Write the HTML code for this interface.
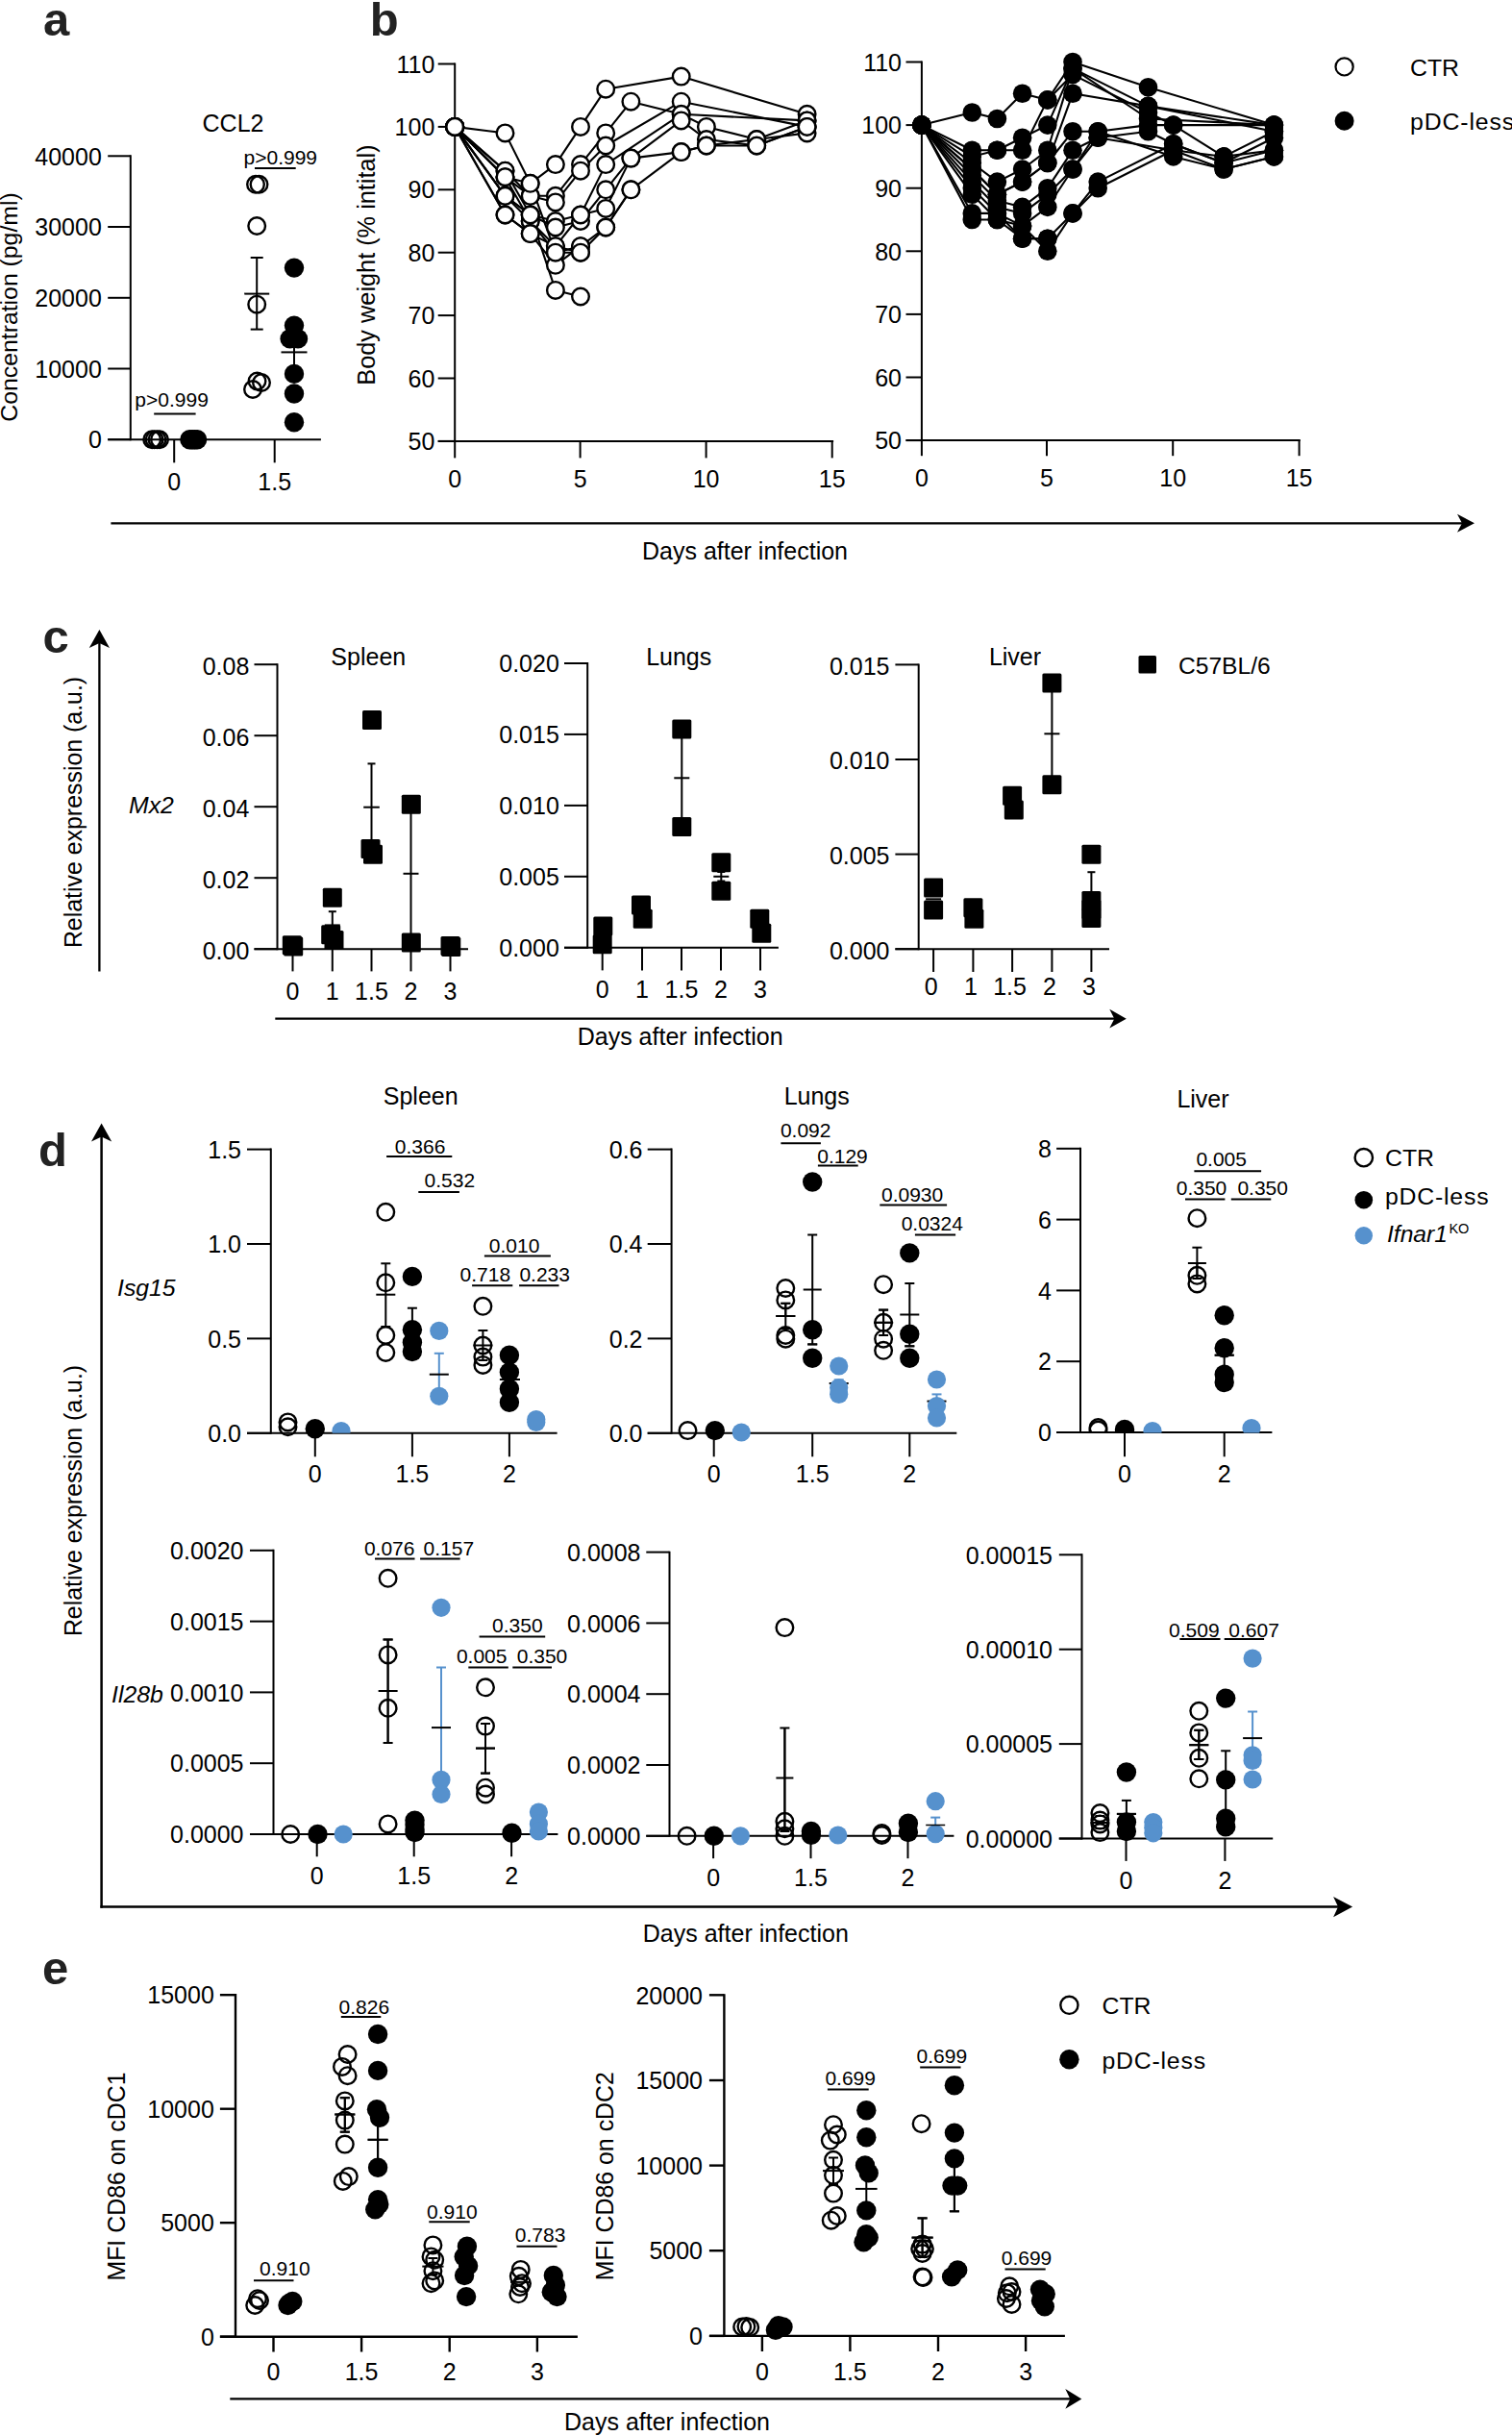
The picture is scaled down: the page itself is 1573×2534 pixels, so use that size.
<!DOCTYPE html>
<html lang="en">
<head>
<meta charset="utf-8">
<title>Figure</title>
<style>
html,body{margin:0;padding:0;background:#fff;}
body{width:1573px;height:2534px;overflow:hidden;}
svg{display:block;}
svg text{font-family:'Liberation Sans', Arial, sans-serif;}
</style>
</head>
<body>
<svg width="1573" height="2534" viewBox="0 0 1573 2534">
<rect x="0" y="0" width="1573" height="2534" fill="#fff"/>
<text transform="translate(45.0 36.6) scale(1.0 1)" x="0" y="0" style="font-size:49px;font-weight:bold" fill="#222">a</text>
<text transform="translate(384.7 36.6) scale(1.0 1)" x="0" y="0" style="font-size:49px;font-weight:bold" fill="#222">b</text>
<text transform="translate(44.5 678.5) scale(1.0 1)" x="0" y="0" style="font-size:49px;font-weight:bold" fill="#222">c</text>
<text transform="translate(40.0 1213.0) scale(1.0 1)" x="0" y="0" style="font-size:49px;font-weight:bold" fill="#222">d</text>
<text transform="translate(44.0 2064.0) scale(1.0 1)" x="0" y="0" style="font-size:49px;font-weight:bold" fill="#222">e</text>
<line x1="135.8" y1="161.3" x2="135.8" y2="458.2" stroke="#000" stroke-width="2" stroke-linecap="butt"/>
<line x1="112.2" y1="457.2" x2="333.9" y2="457.2" stroke="#000" stroke-width="2" stroke-linecap="butt"/>
<line x1="112.2" y1="457.2" x2="135.8" y2="457.2" stroke="#000" stroke-width="2" stroke-linecap="butt"/>
<text x="105.8" y="466.3" text-anchor="end" style="font-size:25px" fill="#000">0</text>
<line x1="112.2" y1="383.5" x2="135.8" y2="383.5" stroke="#000" stroke-width="2" stroke-linecap="butt"/>
<text x="105.8" y="392.6" text-anchor="end" style="font-size:25px" fill="#000">10000</text>
<line x1="112.2" y1="309.8" x2="135.8" y2="309.8" stroke="#000" stroke-width="2" stroke-linecap="butt"/>
<text x="105.8" y="318.9" text-anchor="end" style="font-size:25px" fill="#000">20000</text>
<line x1="112.2" y1="236.0" x2="135.8" y2="236.0" stroke="#000" stroke-width="2" stroke-linecap="butt"/>
<text x="105.8" y="245.2" text-anchor="end" style="font-size:25px" fill="#000">30000</text>
<line x1="112.2" y1="162.3" x2="135.8" y2="162.3" stroke="#000" stroke-width="2" stroke-linecap="butt"/>
<text x="105.8" y="171.5" text-anchor="end" style="font-size:25px" fill="#000">40000</text>
<line x1="181.2" y1="457.2" x2="181.2" y2="481.3" stroke="#000" stroke-width="2" stroke-linecap="butt"/>
<text x="181.2" y="510.3" text-anchor="middle" style="font-size:25px" fill="#000">0</text>
<line x1="285.7" y1="457.2" x2="285.7" y2="481.3" stroke="#000" stroke-width="2" stroke-linecap="butt"/>
<text x="285.7" y="510.3" text-anchor="middle" style="font-size:25px" fill="#000">1.5</text>
<text x="242.5" y="136.8" text-anchor="middle" style="font-size:25px" fill="#000">CCL2</text>
<text x="18.3" y="319.5" text-anchor="middle" style="font-size:24.8px" fill="#000" transform="rotate(-90 18.3 319.5)">Concentration (pg/ml)</text>
<circle cx="158.2" cy="457.2" r="8.8" fill="none" stroke="#000" stroke-width="2.4"/>
<circle cx="160.6" cy="457.2" r="8.8" fill="none" stroke="#000" stroke-width="2.4"/>
<circle cx="163.5" cy="457.2" r="8.8" fill="none" stroke="#000" stroke-width="2.4"/>
<circle cx="166.0" cy="457.2" r="8.8" fill="none" stroke="#000" stroke-width="2.4"/>
<circle cx="197.4" cy="457.2" r="10.2" fill="#000"/>
<circle cx="200.0" cy="457.2" r="10.2" fill="#000"/>
<circle cx="202.5" cy="457.2" r="10.2" fill="#000"/>
<circle cx="205.1" cy="457.2" r="10.2" fill="#000"/>
<line x1="267.2" y1="268.0" x2="267.2" y2="342.6" stroke="#000" stroke-width="2" stroke-linecap="butt"/>
<line x1="260.7" y1="268.0" x2="273.7" y2="268.0" stroke="#000" stroke-width="2" stroke-linecap="butt"/>
<line x1="260.7" y1="342.6" x2="273.7" y2="342.6" stroke="#000" stroke-width="2" stroke-linecap="butt"/>
<line x1="254.2" y1="305.6" x2="280.2" y2="305.6" stroke="#000" stroke-width="2" stroke-linecap="butt"/>
<circle cx="266.0" cy="191.8" r="8.8" fill="none" stroke="#000" stroke-width="2.4"/>
<circle cx="269.5" cy="191.8" r="8.8" fill="none" stroke="#000" stroke-width="2.4"/>
<circle cx="267.2" cy="235.0" r="8.8" fill="none" stroke="#000" stroke-width="2.4"/>
<circle cx="267.2" cy="316.7" r="8.8" fill="none" stroke="#000" stroke-width="2.4"/>
<circle cx="267.5" cy="396.5" r="8.8" fill="none" stroke="#000" stroke-width="2.4"/>
<circle cx="272.0" cy="398.0" r="8.8" fill="none" stroke="#000" stroke-width="2.4"/>
<circle cx="263.0" cy="405.0" r="8.8" fill="none" stroke="#000" stroke-width="2.4"/>
<line x1="306.0" y1="340.0" x2="306.0" y2="392.0" stroke="#000" stroke-width="2" stroke-linecap="butt"/>
<line x1="299.5" y1="340.0" x2="312.5" y2="340.0" stroke="#000" stroke-width="2" stroke-linecap="butt"/>
<line x1="299.5" y1="392.0" x2="312.5" y2="392.0" stroke="#000" stroke-width="2" stroke-linecap="butt"/>
<line x1="292.5" y1="366.4" x2="319.5" y2="366.4" stroke="#000" stroke-width="2" stroke-linecap="butt"/>
<circle cx="306.0" cy="278.6" r="10.2" fill="#000"/>
<circle cx="306.0" cy="338.6" r="10.2" fill="#000"/>
<circle cx="301.6" cy="352.4" r="10.2" fill="#000"/>
<circle cx="310.0" cy="352.4" r="10.2" fill="#000"/>
<circle cx="306.0" cy="388.9" r="10.2" fill="#000"/>
<circle cx="306.0" cy="409.5" r="10.2" fill="#000"/>
<circle cx="306.0" cy="439.2" r="10.2" fill="#000"/>
<text x="178.6" y="422.7" text-anchor="middle" style="font-size:21px" fill="#000">p&gt;0.999</text>
<line x1="160.2" y1="430.5" x2="203.6" y2="430.5" stroke="#000" stroke-width="2" stroke-linecap="butt"/>
<text x="291.8" y="170.6" text-anchor="middle" style="font-size:21px" fill="#000">p&gt;0.999</text>
<line x1="265.0" y1="174.9" x2="307.7" y2="174.9" stroke="#000" stroke-width="2" stroke-linecap="butt"/>
<line x1="473.2" y1="65.5" x2="473.2" y2="459.9" stroke="#000" stroke-width="2" stroke-linecap="butt"/>
<line x1="455.7" y1="458.9" x2="867.1" y2="458.9" stroke="#000" stroke-width="2" stroke-linecap="butt"/>
<line x1="455.7" y1="458.9" x2="473.2" y2="458.9" stroke="#000" stroke-width="2" stroke-linecap="butt"/>
<text x="452.3" y="468.0" text-anchor="end" style="font-size:25px" fill="#000">50</text>
<line x1="455.7" y1="393.5" x2="473.2" y2="393.5" stroke="#000" stroke-width="2" stroke-linecap="butt"/>
<text x="452.3" y="402.6" text-anchor="end" style="font-size:25px" fill="#000">60</text>
<line x1="455.7" y1="328.1" x2="473.2" y2="328.1" stroke="#000" stroke-width="2" stroke-linecap="butt"/>
<text x="452.3" y="337.2" text-anchor="end" style="font-size:25px" fill="#000">70</text>
<line x1="455.7" y1="262.7" x2="473.2" y2="262.7" stroke="#000" stroke-width="2" stroke-linecap="butt"/>
<text x="452.3" y="271.8" text-anchor="end" style="font-size:25px" fill="#000">80</text>
<line x1="455.7" y1="197.3" x2="473.2" y2="197.3" stroke="#000" stroke-width="2" stroke-linecap="butt"/>
<text x="452.3" y="206.4" text-anchor="end" style="font-size:25px" fill="#000">90</text>
<line x1="455.7" y1="131.9" x2="473.2" y2="131.9" stroke="#000" stroke-width="2" stroke-linecap="butt"/>
<text x="452.3" y="141.0" text-anchor="end" style="font-size:25px" fill="#000">100</text>
<line x1="455.7" y1="66.5" x2="473.2" y2="66.5" stroke="#000" stroke-width="2" stroke-linecap="butt"/>
<text x="452.3" y="75.7" text-anchor="end" style="font-size:25px" fill="#000">110</text>
<line x1="473.2" y1="458.9" x2="473.2" y2="476.4" stroke="#000" stroke-width="2" stroke-linecap="butt"/>
<text x="473.2" y="507.2" text-anchor="middle" style="font-size:25px" fill="#000">0</text>
<line x1="603.6" y1="458.9" x2="603.6" y2="476.4" stroke="#000" stroke-width="2" stroke-linecap="butt"/>
<text x="603.6" y="507.2" text-anchor="middle" style="font-size:25px" fill="#000">5</text>
<line x1="734.6" y1="458.9" x2="734.6" y2="476.4" stroke="#000" stroke-width="2" stroke-linecap="butt"/>
<text x="734.6" y="507.2" text-anchor="middle" style="font-size:25px" fill="#000">10</text>
<line x1="865.7" y1="458.9" x2="865.7" y2="476.4" stroke="#000" stroke-width="2" stroke-linecap="butt"/>
<text x="865.7" y="507.2" text-anchor="middle" style="font-size:25px" fill="#000">15</text>
<text x="390.3" y="275.5" text-anchor="middle" style="font-size:25.3px" fill="#000" transform="rotate(-90 390.3 275.5)">Body weight (% intital)</text>
<polyline points="473.2,131.9 525.5,138.4 551.7,190.8 577.9,171.1 604.0,131.9 630.2,92.7 708.7,79.6 839.6,118.8" fill="none" stroke="#000" stroke-width="2.1" stroke-linejoin="round"/>
<polyline points="473.2,131.9 525.5,177.7 551.7,203.8 577.9,203.8 604.0,171.1 630.2,138.4 656.4,105.7 708.7,118.8 734.9,131.9 787.2,145.0 839.6,125.4" fill="none" stroke="#000" stroke-width="2.1" stroke-linejoin="round"/>
<polyline points="473.2,131.9 525.5,184.2 551.7,203.8 577.9,210.4 604.0,177.7 630.2,151.5 708.7,105.7 839.6,131.9" fill="none" stroke="#000" stroke-width="2.1" stroke-linejoin="round"/>
<polyline points="473.2,131.9 525.5,177.7 551.7,223.5 577.9,230.0 604.0,223.5 630.2,171.1 708.7,118.8 839.6,125.4" fill="none" stroke="#000" stroke-width="2.1" stroke-linejoin="round"/>
<polyline points="473.2,131.9 525.5,203.8 551.7,223.5 577.9,236.5 604.0,230.0 630.2,197.3 656.4,164.6 708.7,125.4 734.9,145.0 787.2,151.5 839.6,131.9" fill="none" stroke="#000" stroke-width="2.1" stroke-linejoin="round"/>
<polyline points="473.2,131.9 525.5,184.2 551.7,230.0 577.9,256.2 604.0,223.5 630.2,216.9 656.4,164.6 708.7,158.1 734.9,151.5 787.2,145.0 839.6,138.4" fill="none" stroke="#000" stroke-width="2.1" stroke-linejoin="round"/>
<polyline points="473.2,131.9 525.5,203.8 551.7,230.0 577.9,262.7 604.0,256.2 630.2,236.5 656.4,197.3 708.7,158.1 734.9,151.5 787.2,151.5 839.6,131.9" fill="none" stroke="#000" stroke-width="2.1" stroke-linejoin="round"/>
<polyline points="473.2,131.9 525.5,223.5 551.7,243.1 577.9,256.2 604.0,262.7 630.2,236.5 656.4,197.3" fill="none" stroke="#000" stroke-width="2.1" stroke-linejoin="round"/>
<polyline points="473.2,131.9 525.5,223.5 551.7,243.1 577.9,275.8 604.0,256.2" fill="none" stroke="#000" stroke-width="2.1" stroke-linejoin="round"/>
<polyline points="473.2,131.9 525.5,203.8 551.7,223.5 577.9,301.9 604.0,308.5" fill="none" stroke="#000" stroke-width="2.1" stroke-linejoin="round"/>
<polyline points="473.2,131.9 525.5,184.2 551.7,190.8 577.9,262.7 604.0,262.7" fill="none" stroke="#000" stroke-width="2.1" stroke-linejoin="round"/>
<circle cx="473.2" cy="131.9" r="8.8" fill="#fff" stroke="#000" stroke-width="2.4"/>
<circle cx="525.5" cy="138.4" r="8.8" fill="#fff" stroke="#000" stroke-width="2.4"/>
<circle cx="551.7" cy="190.8" r="8.8" fill="#fff" stroke="#000" stroke-width="2.4"/>
<circle cx="577.9" cy="171.1" r="8.8" fill="#fff" stroke="#000" stroke-width="2.4"/>
<circle cx="604.0" cy="131.9" r="8.8" fill="#fff" stroke="#000" stroke-width="2.4"/>
<circle cx="630.2" cy="92.7" r="8.8" fill="#fff" stroke="#000" stroke-width="2.4"/>
<circle cx="708.7" cy="79.6" r="8.8" fill="#fff" stroke="#000" stroke-width="2.4"/>
<circle cx="839.6" cy="118.8" r="8.8" fill="#fff" stroke="#000" stroke-width="2.4"/>
<circle cx="473.2" cy="131.9" r="8.8" fill="#fff" stroke="#000" stroke-width="2.4"/>
<circle cx="525.5" cy="177.7" r="8.8" fill="#fff" stroke="#000" stroke-width="2.4"/>
<circle cx="551.7" cy="203.8" r="8.8" fill="#fff" stroke="#000" stroke-width="2.4"/>
<circle cx="577.9" cy="203.8" r="8.8" fill="#fff" stroke="#000" stroke-width="2.4"/>
<circle cx="604.0" cy="171.1" r="8.8" fill="#fff" stroke="#000" stroke-width="2.4"/>
<circle cx="630.2" cy="138.4" r="8.8" fill="#fff" stroke="#000" stroke-width="2.4"/>
<circle cx="656.4" cy="105.7" r="8.8" fill="#fff" stroke="#000" stroke-width="2.4"/>
<circle cx="708.7" cy="118.8" r="8.8" fill="#fff" stroke="#000" stroke-width="2.4"/>
<circle cx="734.9" cy="131.9" r="8.8" fill="#fff" stroke="#000" stroke-width="2.4"/>
<circle cx="787.2" cy="145.0" r="8.8" fill="#fff" stroke="#000" stroke-width="2.4"/>
<circle cx="839.6" cy="125.4" r="8.8" fill="#fff" stroke="#000" stroke-width="2.4"/>
<circle cx="473.2" cy="131.9" r="8.8" fill="#fff" stroke="#000" stroke-width="2.4"/>
<circle cx="525.5" cy="184.2" r="8.8" fill="#fff" stroke="#000" stroke-width="2.4"/>
<circle cx="551.7" cy="203.8" r="8.8" fill="#fff" stroke="#000" stroke-width="2.4"/>
<circle cx="577.9" cy="210.4" r="8.8" fill="#fff" stroke="#000" stroke-width="2.4"/>
<circle cx="604.0" cy="177.7" r="8.8" fill="#fff" stroke="#000" stroke-width="2.4"/>
<circle cx="630.2" cy="151.5" r="8.8" fill="#fff" stroke="#000" stroke-width="2.4"/>
<circle cx="708.7" cy="105.7" r="8.8" fill="#fff" stroke="#000" stroke-width="2.4"/>
<circle cx="839.6" cy="131.9" r="8.8" fill="#fff" stroke="#000" stroke-width="2.4"/>
<circle cx="473.2" cy="131.9" r="8.8" fill="#fff" stroke="#000" stroke-width="2.4"/>
<circle cx="525.5" cy="177.7" r="8.8" fill="#fff" stroke="#000" stroke-width="2.4"/>
<circle cx="551.7" cy="223.5" r="8.8" fill="#fff" stroke="#000" stroke-width="2.4"/>
<circle cx="577.9" cy="230.0" r="8.8" fill="#fff" stroke="#000" stroke-width="2.4"/>
<circle cx="604.0" cy="223.5" r="8.8" fill="#fff" stroke="#000" stroke-width="2.4"/>
<circle cx="630.2" cy="171.1" r="8.8" fill="#fff" stroke="#000" stroke-width="2.4"/>
<circle cx="708.7" cy="118.8" r="8.8" fill="#fff" stroke="#000" stroke-width="2.4"/>
<circle cx="839.6" cy="125.4" r="8.8" fill="#fff" stroke="#000" stroke-width="2.4"/>
<circle cx="473.2" cy="131.9" r="8.8" fill="#fff" stroke="#000" stroke-width="2.4"/>
<circle cx="525.5" cy="203.8" r="8.8" fill="#fff" stroke="#000" stroke-width="2.4"/>
<circle cx="551.7" cy="223.5" r="8.8" fill="#fff" stroke="#000" stroke-width="2.4"/>
<circle cx="577.9" cy="236.5" r="8.8" fill="#fff" stroke="#000" stroke-width="2.4"/>
<circle cx="604.0" cy="230.0" r="8.8" fill="#fff" stroke="#000" stroke-width="2.4"/>
<circle cx="630.2" cy="197.3" r="8.8" fill="#fff" stroke="#000" stroke-width="2.4"/>
<circle cx="656.4" cy="164.6" r="8.8" fill="#fff" stroke="#000" stroke-width="2.4"/>
<circle cx="708.7" cy="125.4" r="8.8" fill="#fff" stroke="#000" stroke-width="2.4"/>
<circle cx="734.9" cy="145.0" r="8.8" fill="#fff" stroke="#000" stroke-width="2.4"/>
<circle cx="787.2" cy="151.5" r="8.8" fill="#fff" stroke="#000" stroke-width="2.4"/>
<circle cx="839.6" cy="131.9" r="8.8" fill="#fff" stroke="#000" stroke-width="2.4"/>
<circle cx="473.2" cy="131.9" r="8.8" fill="#fff" stroke="#000" stroke-width="2.4"/>
<circle cx="525.5" cy="184.2" r="8.8" fill="#fff" stroke="#000" stroke-width="2.4"/>
<circle cx="551.7" cy="230.0" r="8.8" fill="#fff" stroke="#000" stroke-width="2.4"/>
<circle cx="577.9" cy="256.2" r="8.8" fill="#fff" stroke="#000" stroke-width="2.4"/>
<circle cx="604.0" cy="223.5" r="8.8" fill="#fff" stroke="#000" stroke-width="2.4"/>
<circle cx="630.2" cy="216.9" r="8.8" fill="#fff" stroke="#000" stroke-width="2.4"/>
<circle cx="656.4" cy="164.6" r="8.8" fill="#fff" stroke="#000" stroke-width="2.4"/>
<circle cx="708.7" cy="158.1" r="8.8" fill="#fff" stroke="#000" stroke-width="2.4"/>
<circle cx="734.9" cy="151.5" r="8.8" fill="#fff" stroke="#000" stroke-width="2.4"/>
<circle cx="787.2" cy="145.0" r="8.8" fill="#fff" stroke="#000" stroke-width="2.4"/>
<circle cx="839.6" cy="138.4" r="8.8" fill="#fff" stroke="#000" stroke-width="2.4"/>
<circle cx="473.2" cy="131.9" r="8.8" fill="#fff" stroke="#000" stroke-width="2.4"/>
<circle cx="525.5" cy="203.8" r="8.8" fill="#fff" stroke="#000" stroke-width="2.4"/>
<circle cx="551.7" cy="230.0" r="8.8" fill="#fff" stroke="#000" stroke-width="2.4"/>
<circle cx="577.9" cy="262.7" r="8.8" fill="#fff" stroke="#000" stroke-width="2.4"/>
<circle cx="604.0" cy="256.2" r="8.8" fill="#fff" stroke="#000" stroke-width="2.4"/>
<circle cx="630.2" cy="236.5" r="8.8" fill="#fff" stroke="#000" stroke-width="2.4"/>
<circle cx="656.4" cy="197.3" r="8.8" fill="#fff" stroke="#000" stroke-width="2.4"/>
<circle cx="708.7" cy="158.1" r="8.8" fill="#fff" stroke="#000" stroke-width="2.4"/>
<circle cx="734.9" cy="151.5" r="8.8" fill="#fff" stroke="#000" stroke-width="2.4"/>
<circle cx="787.2" cy="151.5" r="8.8" fill="#fff" stroke="#000" stroke-width="2.4"/>
<circle cx="839.6" cy="131.9" r="8.8" fill="#fff" stroke="#000" stroke-width="2.4"/>
<circle cx="473.2" cy="131.9" r="8.8" fill="#fff" stroke="#000" stroke-width="2.4"/>
<circle cx="525.5" cy="223.5" r="8.8" fill="#fff" stroke="#000" stroke-width="2.4"/>
<circle cx="551.7" cy="243.1" r="8.8" fill="#fff" stroke="#000" stroke-width="2.4"/>
<circle cx="577.9" cy="256.2" r="8.8" fill="#fff" stroke="#000" stroke-width="2.4"/>
<circle cx="604.0" cy="262.7" r="8.8" fill="#fff" stroke="#000" stroke-width="2.4"/>
<circle cx="630.2" cy="236.5" r="8.8" fill="#fff" stroke="#000" stroke-width="2.4"/>
<circle cx="656.4" cy="197.3" r="8.8" fill="#fff" stroke="#000" stroke-width="2.4"/>
<circle cx="473.2" cy="131.9" r="8.8" fill="#fff" stroke="#000" stroke-width="2.4"/>
<circle cx="525.5" cy="223.5" r="8.8" fill="#fff" stroke="#000" stroke-width="2.4"/>
<circle cx="551.7" cy="243.1" r="8.8" fill="#fff" stroke="#000" stroke-width="2.4"/>
<circle cx="577.9" cy="275.8" r="8.8" fill="#fff" stroke="#000" stroke-width="2.4"/>
<circle cx="604.0" cy="256.2" r="8.8" fill="#fff" stroke="#000" stroke-width="2.4"/>
<circle cx="473.2" cy="131.9" r="8.8" fill="#fff" stroke="#000" stroke-width="2.4"/>
<circle cx="525.5" cy="203.8" r="8.8" fill="#fff" stroke="#000" stroke-width="2.4"/>
<circle cx="551.7" cy="223.5" r="8.8" fill="#fff" stroke="#000" stroke-width="2.4"/>
<circle cx="577.9" cy="301.9" r="8.8" fill="#fff" stroke="#000" stroke-width="2.4"/>
<circle cx="604.0" cy="308.5" r="8.8" fill="#fff" stroke="#000" stroke-width="2.4"/>
<circle cx="473.2" cy="131.9" r="8.8" fill="#fff" stroke="#000" stroke-width="2.4"/>
<circle cx="525.5" cy="184.2" r="8.8" fill="#fff" stroke="#000" stroke-width="2.4"/>
<circle cx="551.7" cy="190.8" r="8.8" fill="#fff" stroke="#000" stroke-width="2.4"/>
<circle cx="577.9" cy="262.7" r="8.8" fill="#fff" stroke="#000" stroke-width="2.4"/>
<circle cx="604.0" cy="262.7" r="8.8" fill="#fff" stroke="#000" stroke-width="2.4"/>
<line x1="958.9" y1="63.4" x2="958.9" y2="459.1" stroke="#000" stroke-width="2" stroke-linecap="butt"/>
<line x1="942.5" y1="458.1" x2="1352.8" y2="458.1" stroke="#000" stroke-width="2" stroke-linecap="butt"/>
<line x1="942.5" y1="458.1" x2="958.9" y2="458.1" stroke="#000" stroke-width="2" stroke-linecap="butt"/>
<text x="938.0" y="467.2" text-anchor="end" style="font-size:25px" fill="#000">50</text>
<line x1="942.5" y1="392.5" x2="958.9" y2="392.5" stroke="#000" stroke-width="2" stroke-linecap="butt"/>
<text x="938.0" y="401.6" text-anchor="end" style="font-size:25px" fill="#000">60</text>
<line x1="942.5" y1="326.9" x2="958.9" y2="326.9" stroke="#000" stroke-width="2" stroke-linecap="butt"/>
<text x="938.0" y="336.1" text-anchor="end" style="font-size:25px" fill="#000">70</text>
<line x1="942.5" y1="261.3" x2="958.9" y2="261.3" stroke="#000" stroke-width="2" stroke-linecap="butt"/>
<text x="938.0" y="270.5" text-anchor="end" style="font-size:25px" fill="#000">80</text>
<line x1="942.5" y1="195.7" x2="958.9" y2="195.7" stroke="#000" stroke-width="2" stroke-linecap="butt"/>
<text x="938.0" y="204.9" text-anchor="end" style="font-size:25px" fill="#000">90</text>
<line x1="942.5" y1="130.1" x2="958.9" y2="130.1" stroke="#000" stroke-width="2" stroke-linecap="butt"/>
<text x="938.0" y="139.3" text-anchor="end" style="font-size:25px" fill="#000">100</text>
<line x1="942.5" y1="64.5" x2="958.9" y2="64.5" stroke="#000" stroke-width="2" stroke-linecap="butt"/>
<text x="938.0" y="73.7" text-anchor="end" style="font-size:25px" fill="#000">110</text>
<line x1="958.9" y1="458.1" x2="958.9" y2="474.2" stroke="#000" stroke-width="2" stroke-linecap="butt"/>
<text x="958.9" y="506.0" text-anchor="middle" style="font-size:25px" fill="#000">0</text>
<line x1="1089.0" y1="458.1" x2="1089.0" y2="474.2" stroke="#000" stroke-width="2" stroke-linecap="butt"/>
<text x="1089.0" y="506.0" text-anchor="middle" style="font-size:25px" fill="#000">5</text>
<line x1="1220.2" y1="458.1" x2="1220.2" y2="474.2" stroke="#000" stroke-width="2" stroke-linecap="butt"/>
<text x="1220.2" y="506.0" text-anchor="middle" style="font-size:25px" fill="#000">10</text>
<line x1="1351.6" y1="458.1" x2="1351.6" y2="474.2" stroke="#000" stroke-width="2" stroke-linecap="butt"/>
<text x="1351.6" y="506.0" text-anchor="middle" style="font-size:25px" fill="#000">15</text>
<polyline points="958.9,130.1 1011.3,117.0 1037.4,123.5 1063.6,97.3 1089.8,103.9 1116.0,64.5 1194.5,90.7 1325.4,130.1" fill="none" stroke="#000" stroke-width="2.1" stroke-linejoin="round"/>
<polyline points="958.9,130.1 1011.3,156.3 1037.4,156.3 1063.6,143.2 1089.8,130.1 1116.0,71.1 1194.5,110.4 1325.4,130.1" fill="none" stroke="#000" stroke-width="2.1" stroke-linejoin="round"/>
<polyline points="958.9,130.1 1011.3,162.9 1037.4,156.3 1063.6,156.3 1089.8,103.9 1116.0,77.6 1194.5,117.0 1220.7,130.1 1273.1,162.9 1325.4,136.7" fill="none" stroke="#000" stroke-width="2.1" stroke-linejoin="round"/>
<polyline points="958.9,130.1 1011.3,169.5 1037.4,189.1 1063.6,176.0 1089.8,156.3 1116.0,71.1 1194.5,123.5 1325.4,130.1" fill="none" stroke="#000" stroke-width="2.1" stroke-linejoin="round"/>
<polyline points="958.9,130.1 1011.3,176.0 1037.4,202.3 1063.6,189.1 1089.8,169.5 1116.0,97.3 1194.5,110.4 1325.4,136.7" fill="none" stroke="#000" stroke-width="2.1" stroke-linejoin="round"/>
<polyline points="958.9,130.1 1011.3,176.0 1037.4,202.3 1063.6,189.1 1089.8,169.5 1116.0,136.7 1142.2,136.7 1194.5,130.1 1220.7,130.1 1325.4,130.1" fill="none" stroke="#000" stroke-width="2.1" stroke-linejoin="round"/>
<polyline points="958.9,130.1 1011.3,182.6 1037.4,208.8 1063.6,215.4 1089.8,195.7 1116.0,156.3 1142.2,143.2 1194.5,136.7 1220.7,149.8 1273.1,169.5 1325.4,143.2" fill="none" stroke="#000" stroke-width="2.1" stroke-linejoin="round"/>
<polyline points="958.9,130.1 1011.3,189.1 1037.4,215.4 1063.6,221.9 1089.8,202.3 1116.0,176.0 1142.2,143.2 1220.7,156.3 1273.1,162.9 1325.4,156.3" fill="none" stroke="#000" stroke-width="2.1" stroke-linejoin="round"/>
<polyline points="958.9,130.1 1011.3,195.7 1037.4,221.9 1063.6,235.1 1089.8,215.4 1116.0,176.0 1142.2,136.7 1220.7,162.9 1273.1,176.0 1325.4,162.9" fill="none" stroke="#000" stroke-width="2.1" stroke-linejoin="round"/>
<polyline points="958.9,130.1 1011.3,221.9 1037.4,221.9 1063.6,248.2 1089.8,248.2 1116.0,221.9 1142.2,189.1 1220.7,149.8 1273.1,169.5 1325.4,156.3" fill="none" stroke="#000" stroke-width="2.1" stroke-linejoin="round"/>
<polyline points="958.9,130.1 1011.3,228.5 1037.4,228.5 1063.6,235.1 1089.8,261.3 1116.0,221.9 1142.2,195.7 1220.7,156.3 1273.1,176.0 1325.4,162.9" fill="none" stroke="#000" stroke-width="2.1" stroke-linejoin="round"/>
<polyline points="958.9,130.1 1011.3,202.3 1037.4,228.5 1063.6,248.2 1089.8,248.2" fill="none" stroke="#000" stroke-width="2.1" stroke-linejoin="round"/>
<circle cx="958.9" cy="130.1" r="9.8" fill="#000"/>
<circle cx="1011.3" cy="117.0" r="9.8" fill="#000"/>
<circle cx="1037.4" cy="123.5" r="9.8" fill="#000"/>
<circle cx="1063.6" cy="97.3" r="9.8" fill="#000"/>
<circle cx="1089.8" cy="103.9" r="9.8" fill="#000"/>
<circle cx="1116.0" cy="64.5" r="9.8" fill="#000"/>
<circle cx="1194.5" cy="90.7" r="9.8" fill="#000"/>
<circle cx="1325.4" cy="130.1" r="9.8" fill="#000"/>
<circle cx="958.9" cy="130.1" r="9.8" fill="#000"/>
<circle cx="1011.3" cy="156.3" r="9.8" fill="#000"/>
<circle cx="1037.4" cy="156.3" r="9.8" fill="#000"/>
<circle cx="1063.6" cy="143.2" r="9.8" fill="#000"/>
<circle cx="1089.8" cy="130.1" r="9.8" fill="#000"/>
<circle cx="1116.0" cy="71.1" r="9.8" fill="#000"/>
<circle cx="1194.5" cy="110.4" r="9.8" fill="#000"/>
<circle cx="1325.4" cy="130.1" r="9.8" fill="#000"/>
<circle cx="958.9" cy="130.1" r="9.8" fill="#000"/>
<circle cx="1011.3" cy="162.9" r="9.8" fill="#000"/>
<circle cx="1037.4" cy="156.3" r="9.8" fill="#000"/>
<circle cx="1063.6" cy="156.3" r="9.8" fill="#000"/>
<circle cx="1089.8" cy="103.9" r="9.8" fill="#000"/>
<circle cx="1116.0" cy="77.6" r="9.8" fill="#000"/>
<circle cx="1194.5" cy="117.0" r="9.8" fill="#000"/>
<circle cx="1220.7" cy="130.1" r="9.8" fill="#000"/>
<circle cx="1273.1" cy="162.9" r="9.8" fill="#000"/>
<circle cx="1325.4" cy="136.7" r="9.8" fill="#000"/>
<circle cx="958.9" cy="130.1" r="9.8" fill="#000"/>
<circle cx="1011.3" cy="169.5" r="9.8" fill="#000"/>
<circle cx="1037.4" cy="189.1" r="9.8" fill="#000"/>
<circle cx="1063.6" cy="176.0" r="9.8" fill="#000"/>
<circle cx="1089.8" cy="156.3" r="9.8" fill="#000"/>
<circle cx="1116.0" cy="71.1" r="9.8" fill="#000"/>
<circle cx="1194.5" cy="123.5" r="9.8" fill="#000"/>
<circle cx="1325.4" cy="130.1" r="9.8" fill="#000"/>
<circle cx="958.9" cy="130.1" r="9.8" fill="#000"/>
<circle cx="1011.3" cy="176.0" r="9.8" fill="#000"/>
<circle cx="1037.4" cy="202.3" r="9.8" fill="#000"/>
<circle cx="1063.6" cy="189.1" r="9.8" fill="#000"/>
<circle cx="1089.8" cy="169.5" r="9.8" fill="#000"/>
<circle cx="1116.0" cy="97.3" r="9.8" fill="#000"/>
<circle cx="1194.5" cy="110.4" r="9.8" fill="#000"/>
<circle cx="1325.4" cy="136.7" r="9.8" fill="#000"/>
<circle cx="958.9" cy="130.1" r="9.8" fill="#000"/>
<circle cx="1011.3" cy="176.0" r="9.8" fill="#000"/>
<circle cx="1037.4" cy="202.3" r="9.8" fill="#000"/>
<circle cx="1063.6" cy="189.1" r="9.8" fill="#000"/>
<circle cx="1089.8" cy="169.5" r="9.8" fill="#000"/>
<circle cx="1116.0" cy="136.7" r="9.8" fill="#000"/>
<circle cx="1142.2" cy="136.7" r="9.8" fill="#000"/>
<circle cx="1194.5" cy="130.1" r="9.8" fill="#000"/>
<circle cx="1220.7" cy="130.1" r="9.8" fill="#000"/>
<circle cx="1325.4" cy="130.1" r="9.8" fill="#000"/>
<circle cx="958.9" cy="130.1" r="9.8" fill="#000"/>
<circle cx="1011.3" cy="182.6" r="9.8" fill="#000"/>
<circle cx="1037.4" cy="208.8" r="9.8" fill="#000"/>
<circle cx="1063.6" cy="215.4" r="9.8" fill="#000"/>
<circle cx="1089.8" cy="195.7" r="9.8" fill="#000"/>
<circle cx="1116.0" cy="156.3" r="9.8" fill="#000"/>
<circle cx="1142.2" cy="143.2" r="9.8" fill="#000"/>
<circle cx="1194.5" cy="136.7" r="9.8" fill="#000"/>
<circle cx="1220.7" cy="149.8" r="9.8" fill="#000"/>
<circle cx="1273.1" cy="169.5" r="9.8" fill="#000"/>
<circle cx="1325.4" cy="143.2" r="9.8" fill="#000"/>
<circle cx="958.9" cy="130.1" r="9.8" fill="#000"/>
<circle cx="1011.3" cy="189.1" r="9.8" fill="#000"/>
<circle cx="1037.4" cy="215.4" r="9.8" fill="#000"/>
<circle cx="1063.6" cy="221.9" r="9.8" fill="#000"/>
<circle cx="1089.8" cy="202.3" r="9.8" fill="#000"/>
<circle cx="1116.0" cy="176.0" r="9.8" fill="#000"/>
<circle cx="1142.2" cy="143.2" r="9.8" fill="#000"/>
<circle cx="1220.7" cy="156.3" r="9.8" fill="#000"/>
<circle cx="1273.1" cy="162.9" r="9.8" fill="#000"/>
<circle cx="1325.4" cy="156.3" r="9.8" fill="#000"/>
<circle cx="958.9" cy="130.1" r="9.8" fill="#000"/>
<circle cx="1011.3" cy="195.7" r="9.8" fill="#000"/>
<circle cx="1037.4" cy="221.9" r="9.8" fill="#000"/>
<circle cx="1063.6" cy="235.1" r="9.8" fill="#000"/>
<circle cx="1089.8" cy="215.4" r="9.8" fill="#000"/>
<circle cx="1116.0" cy="176.0" r="9.8" fill="#000"/>
<circle cx="1142.2" cy="136.7" r="9.8" fill="#000"/>
<circle cx="1220.7" cy="162.9" r="9.8" fill="#000"/>
<circle cx="1273.1" cy="176.0" r="9.8" fill="#000"/>
<circle cx="1325.4" cy="162.9" r="9.8" fill="#000"/>
<circle cx="958.9" cy="130.1" r="9.8" fill="#000"/>
<circle cx="1011.3" cy="221.9" r="9.8" fill="#000"/>
<circle cx="1037.4" cy="221.9" r="9.8" fill="#000"/>
<circle cx="1063.6" cy="248.2" r="9.8" fill="#000"/>
<circle cx="1089.8" cy="248.2" r="9.8" fill="#000"/>
<circle cx="1116.0" cy="221.9" r="9.8" fill="#000"/>
<circle cx="1142.2" cy="189.1" r="9.8" fill="#000"/>
<circle cx="1220.7" cy="149.8" r="9.8" fill="#000"/>
<circle cx="1273.1" cy="169.5" r="9.8" fill="#000"/>
<circle cx="1325.4" cy="156.3" r="9.8" fill="#000"/>
<circle cx="958.9" cy="130.1" r="9.8" fill="#000"/>
<circle cx="1011.3" cy="228.5" r="9.8" fill="#000"/>
<circle cx="1037.4" cy="228.5" r="9.8" fill="#000"/>
<circle cx="1063.6" cy="235.1" r="9.8" fill="#000"/>
<circle cx="1089.8" cy="261.3" r="9.8" fill="#000"/>
<circle cx="1116.0" cy="221.9" r="9.8" fill="#000"/>
<circle cx="1142.2" cy="195.7" r="9.8" fill="#000"/>
<circle cx="1220.7" cy="156.3" r="9.8" fill="#000"/>
<circle cx="1273.1" cy="176.0" r="9.8" fill="#000"/>
<circle cx="1325.4" cy="162.9" r="9.8" fill="#000"/>
<circle cx="958.9" cy="130.1" r="9.8" fill="#000"/>
<circle cx="1011.3" cy="202.3" r="9.8" fill="#000"/>
<circle cx="1037.4" cy="228.5" r="9.8" fill="#000"/>
<circle cx="1063.6" cy="248.2" r="9.8" fill="#000"/>
<circle cx="1089.8" cy="248.2" r="9.8" fill="#000"/>
<circle cx="1398.6" cy="69.4" r="9.1" fill="none" stroke="#000" stroke-width="2.2"/>
<circle cx="1398.6" cy="125.7" r="10" fill="#000"/>
<text x="1467.0" y="78.7" text-anchor="start" style="font-size:24.8px" fill="#000">CTR</text>
<text x="1467.0" y="135.1" text-anchor="start" style="font-size:24.8px;letter-spacing:0.9px" fill="#000">pDC-less</text>
<line x1="115.4" y1="544.3" x2="1522.0" y2="544.3" stroke="#000" stroke-width="2.3" stroke-linecap="butt"/>
<polygon points="1534.0,544.3 1516.0,534.8 1521.0,544.3 1516.0,553.8" fill="#000"/>
<text x="775.0" y="582.0" text-anchor="middle" style="font-size:25px" fill="#000">Days after infection</text>
<line x1="103.4" y1="1010.4" x2="103.4" y2="667.9" stroke="#000" stroke-width="2.3" stroke-linecap="butt"/>
<polygon points="103.4,654.9 92.8,673.9 103.4,668.9 114.0,673.9" fill="#000"/>
<text x="84.6" y="845.0" text-anchor="middle" style="font-size:24.9px" fill="#000" transform="rotate(-90 84.6 845.0)">Relative expression (a.u.)</text>
<text x="134.0" y="845.7" text-anchor="start" style="font-size:24.8px;font-style:italic" fill="#000">Mx2</text>
<line x1="288.5" y1="690.2" x2="288.5" y2="988.2" stroke="#000" stroke-width="2" stroke-linecap="butt"/>
<line x1="264.5" y1="987.2" x2="487.0" y2="987.2" stroke="#000" stroke-width="2" stroke-linecap="butt"/>
<line x1="264.5" y1="987.2" x2="288.5" y2="987.2" stroke="#000" stroke-width="2" stroke-linecap="butt"/>
<text x="259.3" y="997.6" text-anchor="end" style="font-size:25px" fill="#000">0.00</text>
<line x1="264.5" y1="913.2" x2="288.5" y2="913.2" stroke="#000" stroke-width="2" stroke-linecap="butt"/>
<text x="259.3" y="923.6" text-anchor="end" style="font-size:25px" fill="#000">0.02</text>
<line x1="264.5" y1="839.2" x2="288.5" y2="839.2" stroke="#000" stroke-width="2" stroke-linecap="butt"/>
<text x="259.3" y="849.6" text-anchor="end" style="font-size:25px" fill="#000">0.04</text>
<line x1="264.5" y1="765.2" x2="288.5" y2="765.2" stroke="#000" stroke-width="2" stroke-linecap="butt"/>
<text x="259.3" y="775.6" text-anchor="end" style="font-size:25px" fill="#000">0.06</text>
<line x1="264.5" y1="691.2" x2="288.5" y2="691.2" stroke="#000" stroke-width="2" stroke-linecap="butt"/>
<text x="259.3" y="701.6" text-anchor="end" style="font-size:25px" fill="#000">0.08</text>
<line x1="304.5" y1="987.2" x2="304.5" y2="1010.4" stroke="#000" stroke-width="2" stroke-linecap="butt"/>
<text x="304.5" y="1040.1" text-anchor="middle" style="font-size:25px" fill="#000">0</text>
<line x1="345.8" y1="987.2" x2="345.8" y2="1010.4" stroke="#000" stroke-width="2" stroke-linecap="butt"/>
<text x="345.8" y="1040.1" text-anchor="middle" style="font-size:25px" fill="#000">1</text>
<line x1="386.5" y1="987.2" x2="386.5" y2="1010.4" stroke="#000" stroke-width="2" stroke-linecap="butt"/>
<text x="386.5" y="1040.1" text-anchor="middle" style="font-size:25px" fill="#000">1.5</text>
<line x1="427.5" y1="987.2" x2="427.5" y2="1010.4" stroke="#000" stroke-width="2" stroke-linecap="butt"/>
<text x="427.5" y="1040.1" text-anchor="middle" style="font-size:25px" fill="#000">2</text>
<line x1="468.5" y1="987.2" x2="468.5" y2="1010.4" stroke="#000" stroke-width="2" stroke-linecap="butt"/>
<text x="468.5" y="1040.1" text-anchor="middle" style="font-size:25px" fill="#000">3</text>
<text x="383.3" y="692.0" text-anchor="middle" style="font-size:25px" fill="#000">Spleen</text>
<line x1="345.8" y1="948.2" x2="345.8" y2="976.0" stroke="#000" stroke-width="2" stroke-linecap="butt"/>
<line x1="341.8" y1="948.2" x2="349.8" y2="948.2" stroke="#000" stroke-width="2" stroke-linecap="butt"/>
<line x1="341.8" y1="976.0" x2="349.8" y2="976.0" stroke="#000" stroke-width="2" stroke-linecap="butt"/>
<line x1="337.8" y1="962.4" x2="353.8" y2="962.4" stroke="#000" stroke-width="2" stroke-linecap="butt"/>
<line x1="386.5" y1="794.4" x2="386.5" y2="885.0" stroke="#000" stroke-width="2" stroke-linecap="butt"/>
<line x1="382.5" y1="794.4" x2="390.5" y2="794.4" stroke="#000" stroke-width="2" stroke-linecap="butt"/>
<line x1="382.5" y1="885.0" x2="390.5" y2="885.0" stroke="#000" stroke-width="2" stroke-linecap="butt"/>
<line x1="378.2" y1="839.7" x2="394.8" y2="839.7" stroke="#000" stroke-width="2" stroke-linecap="butt"/>
<line x1="427.5" y1="836.0" x2="427.5" y2="987.0" stroke="#000" stroke-width="2" stroke-linecap="butt"/>
<line x1="423.5" y1="836.0" x2="431.5" y2="836.0" stroke="#000" stroke-width="2" stroke-linecap="butt"/>
<line x1="423.5" y1="987.0" x2="431.5" y2="987.0" stroke="#000" stroke-width="2" stroke-linecap="butt"/>
<line x1="419.5" y1="908.8" x2="435.5" y2="908.8" stroke="#000" stroke-width="2" stroke-linecap="butt"/>
<rect x="293.8" y="973.3" width="20" height="20" rx="1.5" fill="#000"/>
<rect x="295.2" y="974.6" width="20" height="20" rx="1.5" fill="#000"/>
<rect x="335.8" y="923.7" width="20" height="20" rx="1.5" fill="#000"/>
<rect x="334.2" y="962.3" width="20" height="20" rx="1.5" fill="#000"/>
<rect x="337.5" y="968.0" width="20" height="20" rx="1.5" fill="#000"/>
<rect x="377.0" y="739.1" width="20" height="20" rx="1.5" fill="#000"/>
<rect x="375.5" y="873.0" width="20" height="20" rx="1.5" fill="#000"/>
<rect x="378.0" y="878.7" width="20" height="20" rx="1.5" fill="#000"/>
<rect x="417.8" y="826.8" width="20" height="20" rx="1.5" fill="#000"/>
<rect x="417.8" y="970.6" width="20" height="20" rx="1.5" fill="#000"/>
<rect x="458.5" y="974.0" width="20" height="20" rx="1.5" fill="#000"/>
<rect x="459.3" y="975.0" width="20" height="20" rx="1.5" fill="#000"/>
<line x1="611.2" y1="689.0" x2="611.2" y2="986.8" stroke="#000" stroke-width="2" stroke-linecap="butt"/>
<line x1="587.0" y1="985.8" x2="809.9" y2="985.8" stroke="#000" stroke-width="2" stroke-linecap="butt"/>
<line x1="587.0" y1="985.8" x2="611.2" y2="985.8" stroke="#000" stroke-width="2" stroke-linecap="butt"/>
<text x="581.8" y="994.9" text-anchor="end" style="font-size:25px" fill="#000">0.000</text>
<line x1="587.0" y1="911.8" x2="611.2" y2="911.8" stroke="#000" stroke-width="2" stroke-linecap="butt"/>
<text x="581.8" y="921.0" text-anchor="end" style="font-size:25px" fill="#000">0.005</text>
<line x1="587.0" y1="837.9" x2="611.2" y2="837.9" stroke="#000" stroke-width="2" stroke-linecap="butt"/>
<text x="581.8" y="847.0" text-anchor="end" style="font-size:25px" fill="#000">0.010</text>
<line x1="587.0" y1="763.9" x2="611.2" y2="763.9" stroke="#000" stroke-width="2" stroke-linecap="butt"/>
<text x="581.8" y="773.1" text-anchor="end" style="font-size:25px" fill="#000">0.015</text>
<line x1="587.0" y1="690.0" x2="611.2" y2="690.0" stroke="#000" stroke-width="2" stroke-linecap="butt"/>
<text x="581.8" y="699.1" text-anchor="end" style="font-size:25px" fill="#000">0.020</text>
<line x1="626.7" y1="985.8" x2="626.7" y2="1009.4" stroke="#000" stroke-width="2" stroke-linecap="butt"/>
<text x="626.7" y="1037.8" text-anchor="middle" style="font-size:25px" fill="#000">0</text>
<line x1="668.0" y1="985.8" x2="668.0" y2="1009.4" stroke="#000" stroke-width="2" stroke-linecap="butt"/>
<text x="668.0" y="1037.8" text-anchor="middle" style="font-size:25px" fill="#000">1</text>
<line x1="709.0" y1="985.8" x2="709.0" y2="1009.4" stroke="#000" stroke-width="2" stroke-linecap="butt"/>
<text x="709.0" y="1037.8" text-anchor="middle" style="font-size:25px" fill="#000">1.5</text>
<line x1="750.0" y1="985.8" x2="750.0" y2="1009.4" stroke="#000" stroke-width="2" stroke-linecap="butt"/>
<text x="750.0" y="1037.8" text-anchor="middle" style="font-size:25px" fill="#000">2</text>
<line x1="791.0" y1="985.8" x2="791.0" y2="1009.4" stroke="#000" stroke-width="2" stroke-linecap="butt"/>
<text x="791.0" y="1037.8" text-anchor="middle" style="font-size:25px" fill="#000">3</text>
<text x="706.2" y="692.0" text-anchor="middle" style="font-size:25px" fill="#000">Lungs</text>
<line x1="709.3" y1="758.0" x2="709.3" y2="860.0" stroke="#000" stroke-width="2" stroke-linecap="butt"/>
<line x1="705.3" y1="758.0" x2="713.3" y2="758.0" stroke="#000" stroke-width="2" stroke-linecap="butt"/>
<line x1="705.3" y1="860.0" x2="713.3" y2="860.0" stroke="#000" stroke-width="2" stroke-linecap="butt"/>
<line x1="701.3" y1="809.3" x2="717.3" y2="809.3" stroke="#000" stroke-width="2" stroke-linecap="butt"/>
<line x1="750.3" y1="907.0" x2="750.3" y2="916.5" stroke="#000" stroke-width="2" stroke-linecap="butt"/>
<line x1="746.3" y1="907.0" x2="754.3" y2="907.0" stroke="#000" stroke-width="2" stroke-linecap="butt"/>
<line x1="746.3" y1="916.5" x2="754.3" y2="916.5" stroke="#000" stroke-width="2" stroke-linecap="butt"/>
<line x1="742.3" y1="911.8" x2="758.3" y2="911.8" stroke="#000" stroke-width="2" stroke-linecap="butt"/>
<rect x="617.3" y="953.4" width="20" height="20" rx="1.5" fill="#000"/>
<rect x="616.7" y="972.3" width="20" height="20" rx="1.5" fill="#000"/>
<rect x="657.0" y="931.6" width="20" height="20" rx="1.5" fill="#000"/>
<rect x="658.7" y="945.8" width="20" height="20" rx="1.5" fill="#000"/>
<rect x="699.3" y="748.4" width="20" height="20" rx="1.5" fill="#000"/>
<rect x="699.3" y="849.9" width="20" height="20" rx="1.5" fill="#000"/>
<rect x="740.3" y="887.3" width="20" height="20" rx="1.5" fill="#000"/>
<rect x="740.3" y="916.7" width="20" height="20" rx="1.5" fill="#000"/>
<rect x="780.3" y="945.8" width="20" height="20" rx="1.5" fill="#000"/>
<rect x="782.3" y="960.7" width="20" height="20" rx="1.5" fill="#000"/>
<line x1="955.7" y1="690.4" x2="955.7" y2="988.2" stroke="#000" stroke-width="2" stroke-linecap="butt"/>
<line x1="931.4" y1="987.2" x2="1154.0" y2="987.2" stroke="#000" stroke-width="2" stroke-linecap="butt"/>
<line x1="931.4" y1="987.2" x2="955.7" y2="987.2" stroke="#000" stroke-width="2" stroke-linecap="butt"/>
<text x="925.5" y="997.6" text-anchor="end" style="font-size:25px" fill="#000">0.000</text>
<line x1="931.4" y1="888.6" x2="955.7" y2="888.6" stroke="#000" stroke-width="2" stroke-linecap="butt"/>
<text x="925.5" y="899.0" text-anchor="end" style="font-size:25px" fill="#000">0.005</text>
<line x1="931.4" y1="790.0" x2="955.7" y2="790.0" stroke="#000" stroke-width="2" stroke-linecap="butt"/>
<text x="925.5" y="800.4" text-anchor="end" style="font-size:25px" fill="#000">0.010</text>
<line x1="931.4" y1="691.4" x2="955.7" y2="691.4" stroke="#000" stroke-width="2" stroke-linecap="butt"/>
<text x="925.5" y="701.8" text-anchor="end" style="font-size:25px" fill="#000">0.015</text>
<line x1="971.1" y1="987.2" x2="971.1" y2="1011.0" stroke="#000" stroke-width="2" stroke-linecap="butt"/>
<text x="968.6" y="1035.2" text-anchor="middle" style="font-size:25px" fill="#000">0</text>
<line x1="1012.4" y1="987.2" x2="1012.4" y2="1011.0" stroke="#000" stroke-width="2" stroke-linecap="butt"/>
<text x="1009.9" y="1035.2" text-anchor="middle" style="font-size:25px" fill="#000">1</text>
<line x1="1053.1" y1="987.2" x2="1053.1" y2="1011.0" stroke="#000" stroke-width="2" stroke-linecap="butt"/>
<text x="1050.6" y="1035.2" text-anchor="middle" style="font-size:25px" fill="#000">1.5</text>
<line x1="1094.4" y1="987.2" x2="1094.4" y2="1011.0" stroke="#000" stroke-width="2" stroke-linecap="butt"/>
<text x="1091.9" y="1035.2" text-anchor="middle" style="font-size:25px" fill="#000">2</text>
<line x1="1135.4" y1="987.2" x2="1135.4" y2="1011.0" stroke="#000" stroke-width="2" stroke-linecap="butt"/>
<text x="1132.9" y="1035.2" text-anchor="middle" style="font-size:25px" fill="#000">3</text>
<text x="1056.0" y="692.0" text-anchor="middle" style="font-size:25px" fill="#000">Liver</text>
<line x1="963.1" y1="935.3" x2="979.1" y2="935.3" stroke="#000" stroke-width="2" stroke-linecap="butt"/>
<line x1="1094.4" y1="710.0" x2="1094.4" y2="816.0" stroke="#000" stroke-width="2" stroke-linecap="butt"/>
<line x1="1090.4" y1="710.0" x2="1098.4" y2="710.0" stroke="#000" stroke-width="2" stroke-linecap="butt"/>
<line x1="1090.4" y1="816.0" x2="1098.4" y2="816.0" stroke="#000" stroke-width="2" stroke-linecap="butt"/>
<line x1="1086.4" y1="763.3" x2="1102.4" y2="763.3" stroke="#000" stroke-width="2" stroke-linecap="butt"/>
<line x1="1131.4" y1="907.2" x2="1139.4" y2="907.2" stroke="#000" stroke-width="2" stroke-linecap="butt"/>
<line x1="1135.4" y1="907.2" x2="1135.4" y2="930.0" stroke="#000" stroke-width="2" stroke-linecap="butt"/>
<rect x="961.1" y="913.4" width="20" height="20" rx="1.5" fill="#000"/>
<rect x="961.1" y="936.5" width="20" height="20" rx="1.5" fill="#000"/>
<rect x="1002.4" y="934.2" width="20" height="20" rx="1.5" fill="#000"/>
<rect x="1003.4" y="945.8" width="20" height="20" rx="1.5" fill="#000"/>
<rect x="1043.1" y="817.8" width="20" height="20" rx="1.5" fill="#000"/>
<rect x="1044.8" y="832.4" width="20" height="20" rx="1.5" fill="#000"/>
<rect x="1084.4" y="700.4" width="20" height="20" rx="1.5" fill="#000"/>
<rect x="1084.4" y="806.3" width="20" height="20" rx="1.5" fill="#000"/>
<rect x="1125.4" y="878.7" width="20" height="20" rx="1.5" fill="#000"/>
<rect x="1125.4" y="927.0" width="20" height="20" rx="1.5" fill="#000"/>
<rect x="1125.4" y="936.0" width="20" height="20" rx="1.5" fill="#000"/>
<rect x="1125.4" y="945.1" width="20" height="20" rx="1.5" fill="#000"/>
<rect x="1184.5" y="682.0" width="18.5" height="18.5" rx="1.5" fill="#000"/>
<text x="1226.0" y="700.5" text-anchor="start" style="font-size:24.6px" fill="#000">C57BL/6</text>
<line x1="286.3" y1="1059.7" x2="1160.3" y2="1059.7" stroke="#000" stroke-width="2.3" stroke-linecap="butt"/>
<polygon points="1171.8,1059.7 1154.3,1049.8 1159.3,1059.7 1154.3,1069.6" fill="#000"/>
<text x="707.7" y="1087.1" text-anchor="middle" style="font-size:25px" fill="#000">Days after infection</text>
<line x1="105.6" y1="1984.8" x2="105.6" y2="1181.4" stroke="#000" stroke-width="2.5" stroke-linecap="butt"/>
<polygon points="105.6,1168.4 95.0,1187.4 105.6,1182.4 116.2,1187.4" fill="#000"/>
<line x1="104.4" y1="1983.6" x2="1393.1" y2="1983.6" stroke="#000" stroke-width="2.5" stroke-linecap="butt"/>
<polygon points="1407.1,1983.6 1387.1,1972.9 1392.1,1983.6 1387.1,1994.3" fill="#000"/>
<text x="84.8" y="1561.0" text-anchor="middle" style="font-size:24.9px" fill="#000" transform="rotate(-90 84.8 1561.0)">Relative expression (a.u.)</text>
<text x="122.0" y="1348.3" text-anchor="start" style="font-size:24.8px;font-style:italic" fill="#000">Isg15</text>
<text x="116.0" y="1771.1" text-anchor="start" style="font-size:24.8px;font-style:italic" fill="#000">Il28b</text>
<text x="775.8" y="2019.8" text-anchor="middle" style="font-size:25px" fill="#000">Days after infection</text>
<line x1="281.8" y1="1194.6" x2="281.8" y2="1491.8" stroke="#000" stroke-width="2" stroke-linecap="butt"/>
<line x1="257.0" y1="1490.8" x2="579.6" y2="1490.8" stroke="#000" stroke-width="2" stroke-linecap="butt"/>
<line x1="257.0" y1="1490.8" x2="281.8" y2="1490.8" stroke="#000" stroke-width="2" stroke-linecap="butt"/>
<text x="251.0" y="1500.0" text-anchor="end" style="font-size:25px" fill="#000">0.0</text>
<line x1="257.0" y1="1392.4" x2="281.8" y2="1392.4" stroke="#000" stroke-width="2" stroke-linecap="butt"/>
<text x="251.0" y="1401.5" text-anchor="end" style="font-size:25px" fill="#000">0.5</text>
<line x1="257.0" y1="1294.0" x2="281.8" y2="1294.0" stroke="#000" stroke-width="2" stroke-linecap="butt"/>
<text x="251.0" y="1303.2" text-anchor="end" style="font-size:25px" fill="#000">1.0</text>
<line x1="257.0" y1="1195.6" x2="281.8" y2="1195.6" stroke="#000" stroke-width="2" stroke-linecap="butt"/>
<text x="251.0" y="1204.8" text-anchor="end" style="font-size:25px" fill="#000">1.5</text>
<line x1="327.8" y1="1490.8" x2="327.8" y2="1515.3" stroke="#000" stroke-width="2" stroke-linecap="butt"/>
<text x="327.8" y="1541.6" text-anchor="middle" style="font-size:25px" fill="#000">0</text>
<line x1="428.9" y1="1490.8" x2="428.9" y2="1515.3" stroke="#000" stroke-width="2" stroke-linecap="butt"/>
<text x="428.9" y="1541.6" text-anchor="middle" style="font-size:25px" fill="#000">1.5</text>
<line x1="529.9" y1="1490.8" x2="529.9" y2="1515.3" stroke="#000" stroke-width="2" stroke-linecap="butt"/>
<text x="529.9" y="1541.6" text-anchor="middle" style="font-size:25px" fill="#000">2</text>
<text x="437.7" y="1148.8" text-anchor="middle" style="font-size:25px" fill="#000">Spleen</text>
<clipPath id="cl1"><rect x="0" y="0" width="1573" height="1490.8"/></clipPath>
<circle cx="299.5" cy="1479.4" r="8.8" fill="none" stroke="#000" stroke-width="2.4"/>
<circle cx="299.5" cy="1484.3" r="8.8" fill="none" stroke="#000" stroke-width="2.4"/>
<circle cx="327.8" cy="1486.2" r="10.2" fill="#000"/>
<g clip-path="url(#cl1)">
<circle cx="355.0" cy="1488.5" r="9.6" fill="#5691cd"/>
</g>
<line x1="401.3" y1="1314.3" x2="401.3" y2="1380.0" stroke="#000" stroke-width="2" stroke-linecap="butt"/>
<line x1="396.3" y1="1314.3" x2="406.3" y2="1314.3" stroke="#000" stroke-width="2" stroke-linecap="butt"/>
<line x1="396.3" y1="1380.0" x2="406.3" y2="1380.0" stroke="#000" stroke-width="2" stroke-linecap="butt"/>
<line x1="391.3" y1="1346.7" x2="411.3" y2="1346.7" stroke="#000" stroke-width="2" stroke-linecap="butt"/>
<circle cx="401.3" cy="1260.8" r="8.8" fill="none" stroke="#000" stroke-width="2.4"/>
<circle cx="401.3" cy="1334.3" r="8.8" fill="none" stroke="#000" stroke-width="2.4"/>
<circle cx="401.3" cy="1389.0" r="8.8" fill="none" stroke="#000" stroke-width="2.4"/>
<circle cx="401.3" cy="1407.0" r="8.8" fill="none" stroke="#000" stroke-width="2.4"/>
<line x1="428.9" y1="1360.7" x2="428.9" y2="1395.0" stroke="#000" stroke-width="2" stroke-linecap="butt"/>
<line x1="423.9" y1="1360.7" x2="433.9" y2="1360.7" stroke="#000" stroke-width="2" stroke-linecap="butt"/>
<line x1="423.9" y1="1395.0" x2="433.9" y2="1395.0" stroke="#000" stroke-width="2" stroke-linecap="butt"/>
<circle cx="428.9" cy="1327.9" r="10.2" fill="#000"/>
<circle cx="428.9" cy="1383.3" r="10.2" fill="#000"/>
<circle cx="428.9" cy="1396.5" r="10.2" fill="#000"/>
<circle cx="428.9" cy="1406.0" r="10.2" fill="#000"/>
<line x1="456.8" y1="1407.8" x2="456.8" y2="1452.0" stroke="#5691cd" stroke-width="2" stroke-linecap="butt"/>
<line x1="451.8" y1="1407.8" x2="461.8" y2="1407.8" stroke="#5691cd" stroke-width="2" stroke-linecap="butt"/>
<line x1="451.8" y1="1452.0" x2="461.8" y2="1452.0" stroke="#5691cd" stroke-width="2" stroke-linecap="butt"/>
<line x1="446.8" y1="1429.7" x2="466.8" y2="1429.7" stroke="#000" stroke-width="2" stroke-linecap="butt"/>
<circle cx="456.8" cy="1384.4" r="9.6" fill="#5691cd"/>
<circle cx="456.8" cy="1452.3" r="9.6" fill="#5691cd"/>
<line x1="502.4" y1="1384.0" x2="502.4" y2="1415.0" stroke="#000" stroke-width="2" stroke-linecap="butt"/>
<line x1="497.4" y1="1384.0" x2="507.4" y2="1384.0" stroke="#000" stroke-width="2" stroke-linecap="butt"/>
<line x1="497.4" y1="1415.0" x2="507.4" y2="1415.0" stroke="#000" stroke-width="2" stroke-linecap="butt"/>
<line x1="492.4" y1="1399.5" x2="512.4" y2="1399.5" stroke="#000" stroke-width="2" stroke-linecap="butt"/>
<circle cx="502.4" cy="1358.8" r="8.8" fill="none" stroke="#000" stroke-width="2.4"/>
<circle cx="502.4" cy="1399.5" r="8.8" fill="none" stroke="#000" stroke-width="2.4"/>
<circle cx="502.4" cy="1411.6" r="8.8" fill="none" stroke="#000" stroke-width="2.4"/>
<circle cx="502.4" cy="1419.9" r="8.8" fill="none" stroke="#000" stroke-width="2.4"/>
<line x1="519.9" y1="1435.0" x2="539.9" y2="1435.0" stroke="#000" stroke-width="2" stroke-linecap="butt"/>
<circle cx="529.9" cy="1409.7" r="10.2" fill="#000"/>
<circle cx="529.9" cy="1427.4" r="10.2" fill="#000"/>
<circle cx="529.9" cy="1444.8" r="10.2" fill="#000"/>
<circle cx="529.9" cy="1458.7" r="10.2" fill="#000"/>
<line x1="529.9" y1="1435.0" x2="541.0" y2="1435.0" stroke="#000" stroke-width="2" stroke-linecap="butt"/>
<circle cx="557.8" cy="1476.5" r="9.6" fill="#5691cd"/>
<circle cx="557.8" cy="1479.5" r="9.6" fill="#5691cd"/>
<text x="437.1" y="1199.7" text-anchor="middle" style="font-size:21px" fill="#000">0.366</text>
<line x1="402.1" y1="1203.1" x2="470.3" y2="1203.1" stroke="#000" stroke-width="2" stroke-linecap="butt"/>
<text x="467.9" y="1235.2" text-anchor="middle" style="font-size:21px" fill="#000">0.532</text>
<line x1="435.3" y1="1240.1" x2="477.9" y2="1240.1" stroke="#000" stroke-width="2" stroke-linecap="butt"/>
<text x="535.1" y="1303.0" text-anchor="middle" style="font-size:21px" fill="#000">0.010</text>
<line x1="503.9" y1="1306.4" x2="572.9" y2="1306.4" stroke="#000" stroke-width="2" stroke-linecap="butt"/>
<text x="504.8" y="1333.2" text-anchor="middle" style="font-size:21px" fill="#000">0.718</text>
<line x1="491.1" y1="1337.3" x2="533.3" y2="1337.3" stroke="#000" stroke-width="2" stroke-linecap="butt"/>
<text x="566.7" y="1333.2" text-anchor="middle" style="font-size:21px" fill="#000">0.233</text>
<line x1="540.1" y1="1337.3" x2="581.5" y2="1337.3" stroke="#000" stroke-width="2" stroke-linecap="butt"/>
<line x1="698.6" y1="1194.6" x2="698.6" y2="1491.8" stroke="#000" stroke-width="2" stroke-linecap="butt"/>
<line x1="673.7" y1="1490.8" x2="995.3" y2="1490.8" stroke="#000" stroke-width="2" stroke-linecap="butt"/>
<line x1="673.7" y1="1490.8" x2="698.6" y2="1490.8" stroke="#000" stroke-width="2" stroke-linecap="butt"/>
<text x="668.5" y="1500.0" text-anchor="end" style="font-size:25px" fill="#000">0.0</text>
<line x1="673.7" y1="1392.4" x2="698.6" y2="1392.4" stroke="#000" stroke-width="2" stroke-linecap="butt"/>
<text x="668.5" y="1401.5" text-anchor="end" style="font-size:25px" fill="#000">0.2</text>
<line x1="673.7" y1="1294.0" x2="698.6" y2="1294.0" stroke="#000" stroke-width="2" stroke-linecap="butt"/>
<text x="668.5" y="1303.2" text-anchor="end" style="font-size:25px" fill="#000">0.4</text>
<line x1="673.7" y1="1195.6" x2="698.6" y2="1195.6" stroke="#000" stroke-width="2" stroke-linecap="butt"/>
<text x="668.5" y="1204.8" text-anchor="end" style="font-size:25px" fill="#000">0.6</text>
<line x1="742.7" y1="1490.8" x2="742.7" y2="1515.3" stroke="#000" stroke-width="2" stroke-linecap="butt"/>
<text x="742.7" y="1541.6" text-anchor="middle" style="font-size:25px" fill="#000">0</text>
<line x1="845.2" y1="1490.8" x2="845.2" y2="1515.3" stroke="#000" stroke-width="2" stroke-linecap="butt"/>
<text x="845.2" y="1541.6" text-anchor="middle" style="font-size:25px" fill="#000">1.5</text>
<line x1="946.3" y1="1490.8" x2="946.3" y2="1515.3" stroke="#000" stroke-width="2" stroke-linecap="butt"/>
<text x="946.3" y="1541.6" text-anchor="middle" style="font-size:25px" fill="#000">2</text>
<text x="849.7" y="1148.8" text-anchor="middle" style="font-size:25px" fill="#000">Lungs</text>
<circle cx="715.5" cy="1488.1" r="8.8" fill="none" stroke="#000" stroke-width="2.4"/>
<circle cx="743.8" cy="1488.1" r="10.2" fill="#000"/>
<circle cx="771.3" cy="1490.0" r="9.6" fill="#5691cd"/>
<line x1="817.3" y1="1355.8" x2="817.3" y2="1382.0" stroke="#000" stroke-width="2" stroke-linecap="butt"/>
<line x1="812.3" y1="1355.8" x2="822.3" y2="1355.8" stroke="#000" stroke-width="2" stroke-linecap="butt"/>
<line x1="812.3" y1="1382.0" x2="822.3" y2="1382.0" stroke="#000" stroke-width="2" stroke-linecap="butt"/>
<line x1="807.3" y1="1369.0" x2="827.3" y2="1369.0" stroke="#000" stroke-width="2" stroke-linecap="butt"/>
<circle cx="817.3" cy="1340.0" r="8.8" fill="none" stroke="#000" stroke-width="2.4"/>
<circle cx="817.3" cy="1352.4" r="8.8" fill="none" stroke="#000" stroke-width="2.4"/>
<circle cx="817.3" cy="1389.0" r="8.8" fill="none" stroke="#000" stroke-width="2.4"/>
<circle cx="817.3" cy="1392.7" r="8.8" fill="none" stroke="#000" stroke-width="2.4"/>
<line x1="807.3" y1="1369.0" x2="827.3" y2="1369.0" stroke="#000" stroke-width="2" stroke-linecap="butt"/>
<line x1="817.3" y1="1355.8" x2="817.3" y2="1369.0" stroke="#000" stroke-width="2" stroke-linecap="butt"/>
<line x1="812.3" y1="1355.8" x2="822.3" y2="1355.8" stroke="#000" stroke-width="2" stroke-linecap="butt"/>
<line x1="845.2" y1="1284.5" x2="845.2" y2="1398.4" stroke="#000" stroke-width="2" stroke-linecap="butt"/>
<line x1="840.2" y1="1284.5" x2="850.2" y2="1284.5" stroke="#000" stroke-width="2" stroke-linecap="butt"/>
<line x1="840.2" y1="1398.4" x2="850.2" y2="1398.4" stroke="#000" stroke-width="2" stroke-linecap="butt"/>
<line x1="835.7" y1="1341.5" x2="854.7" y2="1341.5" stroke="#000" stroke-width="2" stroke-linecap="butt"/>
<circle cx="845.2" cy="1229.5" r="10.2" fill="#000"/>
<circle cx="845.2" cy="1383.3" r="10.2" fill="#000"/>
<circle cx="845.2" cy="1412.7" r="10.2" fill="#000"/>
<line x1="840.2" y1="1398.4" x2="850.2" y2="1398.4" stroke="#000" stroke-width="2" stroke-linecap="butt"/>
<line x1="862.7" y1="1439.0" x2="882.7" y2="1439.0" stroke="#000" stroke-width="2" stroke-linecap="butt"/>
<circle cx="872.7" cy="1421.0" r="9.6" fill="#5691cd"/>
<circle cx="872.7" cy="1443.6" r="9.6" fill="#5691cd"/>
<circle cx="872.7" cy="1450.4" r="9.6" fill="#5691cd"/>
<line x1="867.7" y1="1435.3" x2="877.7" y2="1435.3" stroke="#5691cd" stroke-width="2" stroke-linecap="butt"/>
<line x1="919.1" y1="1362.6" x2="919.1" y2="1389.0" stroke="#000" stroke-width="2" stroke-linecap="butt"/>
<line x1="914.1" y1="1362.6" x2="924.1" y2="1362.6" stroke="#000" stroke-width="2" stroke-linecap="butt"/>
<line x1="914.1" y1="1389.0" x2="924.1" y2="1389.0" stroke="#000" stroke-width="2" stroke-linecap="butt"/>
<line x1="909.1" y1="1375.8" x2="929.1" y2="1375.8" stroke="#000" stroke-width="2" stroke-linecap="butt"/>
<circle cx="919.1" cy="1336.2" r="8.8" fill="none" stroke="#000" stroke-width="2.4"/>
<circle cx="919.1" cy="1375.8" r="8.8" fill="none" stroke="#000" stroke-width="2.4"/>
<circle cx="919.1" cy="1392.7" r="8.8" fill="none" stroke="#000" stroke-width="2.4"/>
<circle cx="919.1" cy="1404.8" r="8.8" fill="none" stroke="#000" stroke-width="2.4"/>
<line x1="909.1" y1="1375.8" x2="929.1" y2="1375.8" stroke="#000" stroke-width="2" stroke-linecap="butt"/>
<line x1="919.1" y1="1362.6" x2="919.1" y2="1389.0" stroke="#000" stroke-width="2" stroke-linecap="butt"/>
<line x1="914.1" y1="1362.6" x2="924.1" y2="1362.6" stroke="#000" stroke-width="2" stroke-linecap="butt"/>
<line x1="946.3" y1="1335.0" x2="946.3" y2="1400.3" stroke="#000" stroke-width="2" stroke-linecap="butt"/>
<line x1="941.3" y1="1335.0" x2="951.3" y2="1335.0" stroke="#000" stroke-width="2" stroke-linecap="butt"/>
<line x1="941.3" y1="1400.3" x2="951.3" y2="1400.3" stroke="#000" stroke-width="2" stroke-linecap="butt"/>
<line x1="936.3" y1="1367.5" x2="956.3" y2="1367.5" stroke="#000" stroke-width="2" stroke-linecap="butt"/>
<circle cx="946.3" cy="1303.4" r="10.2" fill="#000"/>
<circle cx="946.3" cy="1387.8" r="10.2" fill="#000"/>
<circle cx="946.3" cy="1412.7" r="10.2" fill="#000"/>
<line x1="941.3" y1="1400.3" x2="951.3" y2="1400.3" stroke="#000" stroke-width="2" stroke-linecap="butt"/>
<line x1="964.5" y1="1457.6" x2="984.5" y2="1457.6" stroke="#000" stroke-width="2" stroke-linecap="butt"/>
<circle cx="974.5" cy="1435.0" r="9.6" fill="#5691cd"/>
<circle cx="974.5" cy="1462.5" r="9.6" fill="#5691cd"/>
<circle cx="974.5" cy="1475.0" r="9.6" fill="#5691cd"/>
<line x1="969.5" y1="1450.4" x2="979.5" y2="1450.4" stroke="#5691cd" stroke-width="2" stroke-linecap="butt"/>
<line x1="974.5" y1="1450.4" x2="974.5" y2="1455.0" stroke="#5691cd" stroke-width="2" stroke-linecap="butt"/>
<text x="838.2" y="1182.8" text-anchor="middle" style="font-size:21px" fill="#000">0.092</text>
<line x1="812.4" y1="1189.2" x2="853.9" y2="1189.2" stroke="#000" stroke-width="2" stroke-linecap="butt"/>
<text x="876.5" y="1209.9" text-anchor="middle" style="font-size:21px" fill="#000">0.129</text>
<line x1="850.9" y1="1212.5" x2="892.7" y2="1212.5" stroke="#000" stroke-width="2" stroke-linecap="butt"/>
<text x="949.1" y="1250.2" text-anchor="middle" style="font-size:21px" fill="#000">0.0930</text>
<line x1="915.3" y1="1253.6" x2="985.1" y2="1253.6" stroke="#000" stroke-width="2" stroke-linecap="butt"/>
<text x="969.8" y="1280.4" text-anchor="middle" style="font-size:21px" fill="#000">0.0324</text>
<line x1="951.9" y1="1284.5" x2="994.1" y2="1284.5" stroke="#000" stroke-width="2" stroke-linecap="butt"/>
<clipPath id="cl2"><rect x="0" y="0" width="1573" height="1490.5"/></clipPath>
<line x1="1124.0" y1="1193.8" x2="1124.0" y2="1491.0" stroke="#000" stroke-width="2" stroke-linecap="butt"/>
<line x1="1099.1" y1="1490.0" x2="1323.4" y2="1490.0" stroke="#000" stroke-width="2" stroke-linecap="butt"/>
<line x1="1099.1" y1="1490.0" x2="1124.0" y2="1490.0" stroke="#000" stroke-width="2" stroke-linecap="butt"/>
<text x="1094.0" y="1499.2" text-anchor="end" style="font-size:25px" fill="#000">0</text>
<line x1="1099.1" y1="1416.2" x2="1124.0" y2="1416.2" stroke="#000" stroke-width="2" stroke-linecap="butt"/>
<text x="1094.0" y="1425.4" text-anchor="end" style="font-size:25px" fill="#000">2</text>
<line x1="1099.1" y1="1342.4" x2="1124.0" y2="1342.4" stroke="#000" stroke-width="2" stroke-linecap="butt"/>
<text x="1094.0" y="1351.6" text-anchor="end" style="font-size:25px" fill="#000">4</text>
<line x1="1099.1" y1="1268.6" x2="1124.0" y2="1268.6" stroke="#000" stroke-width="2" stroke-linecap="butt"/>
<text x="1094.0" y="1277.8" text-anchor="end" style="font-size:25px" fill="#000">6</text>
<line x1="1099.1" y1="1194.8" x2="1124.0" y2="1194.8" stroke="#000" stroke-width="2" stroke-linecap="butt"/>
<text x="1094.0" y="1204.0" text-anchor="end" style="font-size:25px" fill="#000">8</text>
<line x1="1170.0" y1="1490.0" x2="1170.0" y2="1515.3" stroke="#000" stroke-width="2" stroke-linecap="butt"/>
<text x="1170.0" y="1541.6" text-anchor="middle" style="font-size:25px" fill="#000">0</text>
<line x1="1273.7" y1="1490.0" x2="1273.7" y2="1515.3" stroke="#000" stroke-width="2" stroke-linecap="butt"/>
<text x="1273.7" y="1541.6" text-anchor="middle" style="font-size:25px" fill="#000">2</text>
<text x="1251.5" y="1151.5" text-anchor="middle" style="font-size:25px" fill="#000">Liver</text>
<g clip-path="url(#cl2)">
<circle cx="1142.5" cy="1485.0" r="8.8" fill="none" stroke="#000" stroke-width="2.4"/>
<circle cx="1142.5" cy="1487.5" r="8.8" fill="none" stroke="#000" stroke-width="2.4"/>
<circle cx="1170.0" cy="1487.0" r="10.2" fill="#000"/>
<circle cx="1199.0" cy="1488.5" r="9.6" fill="#5691cd"/>
<circle cx="1302.0" cy="1485.5" r="9.6" fill="#5691cd"/>
</g>
<line x1="1245.4" y1="1297.7" x2="1245.4" y2="1330.0" stroke="#000" stroke-width="2" stroke-linecap="butt"/>
<line x1="1240.4" y1="1297.7" x2="1250.4" y2="1297.7" stroke="#000" stroke-width="2" stroke-linecap="butt"/>
<line x1="1240.4" y1="1330.0" x2="1250.4" y2="1330.0" stroke="#000" stroke-width="2" stroke-linecap="butt"/>
<line x1="1235.9" y1="1314.0" x2="1254.9" y2="1314.0" stroke="#000" stroke-width="2" stroke-linecap="butt"/>
<circle cx="1245.4" cy="1267.2" r="8.8" fill="none" stroke="#000" stroke-width="2.4"/>
<circle cx="1245.4" cy="1326.8" r="8.8" fill="none" stroke="#000" stroke-width="2.4"/>
<circle cx="1245.4" cy="1335.4" r="8.8" fill="none" stroke="#000" stroke-width="2.4"/>
<line x1="1245.4" y1="1314.0" x2="1245.4" y2="1330.0" stroke="#000" stroke-width="2" stroke-linecap="butt"/>
<line x1="1273.7" y1="1394.6" x2="1273.7" y2="1425.0" stroke="#000" stroke-width="2" stroke-linecap="butt"/>
<line x1="1268.7" y1="1394.6" x2="1278.7" y2="1394.6" stroke="#000" stroke-width="2" stroke-linecap="butt"/>
<line x1="1268.7" y1="1425.0" x2="1278.7" y2="1425.0" stroke="#000" stroke-width="2" stroke-linecap="butt"/>
<line x1="1263.7" y1="1409.7" x2="1283.7" y2="1409.7" stroke="#000" stroke-width="2" stroke-linecap="butt"/>
<circle cx="1273.7" cy="1368.2" r="10.2" fill="#000"/>
<circle cx="1273.7" cy="1402.2" r="10.2" fill="#000"/>
<circle cx="1273.7" cy="1429.7" r="10.2" fill="#000"/>
<circle cx="1273.7" cy="1438.0" r="10.2" fill="#000"/>
<line x1="1263.7" y1="1409.7" x2="1283.7" y2="1409.7" stroke="#000" stroke-width="2" stroke-linecap="butt"/>
<text x="1270.7" y="1212.5" text-anchor="middle" style="font-size:21px" fill="#000">0.005</text>
<line x1="1242.4" y1="1218.2" x2="1312.1" y2="1218.2" stroke="#000" stroke-width="2" stroke-linecap="butt"/>
<text x="1250.0" y="1243.1" text-anchor="middle" style="font-size:21px" fill="#000">0.350</text>
<line x1="1233.0" y1="1247.6" x2="1274.4" y2="1247.6" stroke="#000" stroke-width="2" stroke-linecap="butt"/>
<text x="1313.7" y="1243.1" text-anchor="middle" style="font-size:21px" fill="#000">0.350</text>
<line x1="1280.8" y1="1247.6" x2="1322.3" y2="1247.6" stroke="#000" stroke-width="2" stroke-linecap="butt"/>
<circle cx="1418.8" cy="1204.2" r="9.2" fill="none" stroke="#000" stroke-width="2.4"/>
<circle cx="1418.8" cy="1248.2" r="9.3" fill="#000"/>
<circle cx="1418.8" cy="1285.2" r="9.2" fill="#5691cd"/>
<text x="1441.0" y="1213.3" text-anchor="start" style="font-size:24.8px" fill="#000">CTR</text>
<text x="1441.0" y="1253.0" text-anchor="start" style="font-size:24.8px;letter-spacing:0.8px" fill="#000">pDC-less</text>
<text x="1443" y="1291.6" style="font-size:24.6px" fill="#000"><tspan style="font-style:italic">Ifnar1</tspan><tspan dx="1.5" dy="-8.2" style="font-size:14.5px">KO</tspan></text>
<line x1="284.5" y1="1611.8" x2="284.5" y2="1909.0" stroke="#000" stroke-width="2" stroke-linecap="butt"/>
<line x1="260.0" y1="1908.0" x2="580.4" y2="1908.0" stroke="#000" stroke-width="2" stroke-linecap="butt"/>
<line x1="260.0" y1="1908.0" x2="284.5" y2="1908.0" stroke="#000" stroke-width="2" stroke-linecap="butt"/>
<text x="253.5" y="1917.2" text-anchor="end" style="font-size:25px" fill="#000">0.0000</text>
<line x1="260.0" y1="1834.2" x2="284.5" y2="1834.2" stroke="#000" stroke-width="2" stroke-linecap="butt"/>
<text x="253.5" y="1843.4" text-anchor="end" style="font-size:25px" fill="#000">0.0005</text>
<line x1="260.0" y1="1760.4" x2="284.5" y2="1760.4" stroke="#000" stroke-width="2" stroke-linecap="butt"/>
<text x="253.5" y="1769.6" text-anchor="end" style="font-size:25px" fill="#000">0.0010</text>
<line x1="260.0" y1="1686.6" x2="284.5" y2="1686.6" stroke="#000" stroke-width="2" stroke-linecap="butt"/>
<text x="253.5" y="1695.8" text-anchor="end" style="font-size:25px" fill="#000">0.0015</text>
<line x1="260.0" y1="1612.8" x2="284.5" y2="1612.8" stroke="#000" stroke-width="2" stroke-linecap="butt"/>
<text x="253.5" y="1622.0" text-anchor="end" style="font-size:25px" fill="#000">0.0020</text>
<line x1="329.7" y1="1908.0" x2="329.7" y2="1931.3" stroke="#000" stroke-width="2" stroke-linecap="butt"/>
<text x="329.7" y="1959.6" text-anchor="middle" style="font-size:25px" fill="#000">0</text>
<line x1="430.7" y1="1908.0" x2="430.7" y2="1931.3" stroke="#000" stroke-width="2" stroke-linecap="butt"/>
<text x="430.7" y="1959.6" text-anchor="middle" style="font-size:25px" fill="#000">1.5</text>
<line x1="532.1" y1="1908.0" x2="532.1" y2="1931.3" stroke="#000" stroke-width="2" stroke-linecap="butt"/>
<text x="532.1" y="1959.6" text-anchor="middle" style="font-size:25px" fill="#000">2</text>
<circle cx="302.2" cy="1908.0" r="8.8" fill="none" stroke="#000" stroke-width="2.4"/>
<circle cx="330.5" cy="1908.0" r="10.2" fill="#000"/>
<circle cx="357.2" cy="1908.0" r="9.6" fill="#5691cd"/>
<line x1="403.6" y1="1705.5" x2="403.6" y2="1813.0" stroke="#000" stroke-width="2" stroke-linecap="butt"/>
<line x1="398.6" y1="1705.5" x2="408.6" y2="1705.5" stroke="#000" stroke-width="2" stroke-linecap="butt"/>
<line x1="398.6" y1="1813.0" x2="408.6" y2="1813.0" stroke="#000" stroke-width="2" stroke-linecap="butt"/>
<line x1="393.8" y1="1759.0" x2="413.4" y2="1759.0" stroke="#000" stroke-width="2" stroke-linecap="butt"/>
<circle cx="403.6" cy="1641.8" r="8.8" fill="none" stroke="#000" stroke-width="2.4"/>
<circle cx="403.6" cy="1721.4" r="8.8" fill="none" stroke="#000" stroke-width="2.4"/>
<circle cx="403.6" cy="1776.8" r="8.8" fill="none" stroke="#000" stroke-width="2.4"/>
<circle cx="403.6" cy="1897.4" r="8.8" fill="none" stroke="#000" stroke-width="2.4"/>
<line x1="403.6" y1="1705.5" x2="403.6" y2="1813.0" stroke="#000" stroke-width="2" stroke-linecap="butt"/>
<line x1="393.8" y1="1759.0" x2="413.4" y2="1759.0" stroke="#000" stroke-width="2" stroke-linecap="butt"/>
<line x1="398.6" y1="1705.5" x2="408.6" y2="1705.5" stroke="#000" stroke-width="2" stroke-linecap="butt"/>
<circle cx="431.5" cy="1893.6" r="10.2" fill="#000"/>
<circle cx="431.5" cy="1898.0" r="10.2" fill="#000"/>
<circle cx="431.5" cy="1903.0" r="10.2" fill="#000"/>
<circle cx="431.5" cy="1906.0" r="10.2" fill="#000"/>
<line x1="459.0" y1="1734.5" x2="459.0" y2="1860.0" stroke="#5691cd" stroke-width="2" stroke-linecap="butt"/>
<line x1="454.0" y1="1734.5" x2="464.0" y2="1734.5" stroke="#5691cd" stroke-width="2" stroke-linecap="butt"/>
<line x1="454.0" y1="1860.0" x2="464.0" y2="1860.0" stroke="#5691cd" stroke-width="2" stroke-linecap="butt"/>
<line x1="449.0" y1="1797.1" x2="469.0" y2="1797.1" stroke="#000" stroke-width="2" stroke-linecap="butt"/>
<circle cx="459.0" cy="1672.3" r="9.6" fill="#5691cd"/>
<circle cx="459.0" cy="1851.4" r="9.6" fill="#5691cd"/>
<circle cx="459.0" cy="1866.5" r="9.6" fill="#5691cd"/>
<line x1="505.0" y1="1793.0" x2="505.0" y2="1844.6" stroke="#000" stroke-width="2" stroke-linecap="butt"/>
<line x1="500.0" y1="1793.0" x2="510.0" y2="1793.0" stroke="#000" stroke-width="2" stroke-linecap="butt"/>
<line x1="500.0" y1="1844.6" x2="510.0" y2="1844.6" stroke="#000" stroke-width="2" stroke-linecap="butt"/>
<line x1="495.0" y1="1818.6" x2="515.0" y2="1818.6" stroke="#000" stroke-width="2" stroke-linecap="butt"/>
<circle cx="505.0" cy="1755.3" r="8.8" fill="none" stroke="#000" stroke-width="2.4"/>
<circle cx="505.0" cy="1795.6" r="8.8" fill="none" stroke="#000" stroke-width="2.4"/>
<circle cx="505.0" cy="1859.7" r="8.8" fill="none" stroke="#000" stroke-width="2.4"/>
<circle cx="505.0" cy="1866.5" r="8.8" fill="none" stroke="#000" stroke-width="2.4"/>
<line x1="505.0" y1="1793.0" x2="505.0" y2="1844.6" stroke="#000" stroke-width="2" stroke-linecap="butt"/>
<line x1="495.0" y1="1818.6" x2="515.0" y2="1818.6" stroke="#000" stroke-width="2" stroke-linecap="butt"/>
<line x1="500.0" y1="1793.0" x2="510.0" y2="1793.0" stroke="#000" stroke-width="2" stroke-linecap="butt"/>
<line x1="500.0" y1="1844.6" x2="510.0" y2="1844.6" stroke="#000" stroke-width="2" stroke-linecap="butt"/>
<circle cx="532.5" cy="1906.8" r="10.2" fill="#000"/>
<circle cx="560.4" cy="1885.0" r="9.6" fill="#5691cd"/>
<circle cx="560.4" cy="1897.4" r="9.6" fill="#5691cd"/>
<circle cx="560.4" cy="1905.0" r="9.6" fill="#5691cd"/>
<text x="405.2" y="1618.4" text-anchor="middle" style="font-size:21px" fill="#000">0.076</text>
<line x1="390.0" y1="1621.4" x2="431.5" y2="1621.4" stroke="#000" stroke-width="2" stroke-linecap="butt"/>
<text x="466.8" y="1618.4" text-anchor="middle" style="font-size:21px" fill="#000">0.157</text>
<line x1="437.1" y1="1621.4" x2="478.6" y2="1621.4" stroke="#000" stroke-width="2" stroke-linecap="butt"/>
<text x="538.4" y="1698.4" text-anchor="middle" style="font-size:21px" fill="#000">0.350</text>
<line x1="498.6" y1="1702.5" x2="567.2" y2="1702.5" stroke="#000" stroke-width="2" stroke-linecap="butt"/>
<text x="501.2" y="1730.4" text-anchor="middle" style="font-size:21px" fill="#000">0.005</text>
<line x1="487.3" y1="1734.5" x2="528.8" y2="1734.5" stroke="#000" stroke-width="2" stroke-linecap="butt"/>
<text x="564.0" y="1730.4" text-anchor="middle" style="font-size:21px" fill="#000">0.350</text>
<line x1="533.3" y1="1734.5" x2="574.0" y2="1734.5" stroke="#000" stroke-width="2" stroke-linecap="butt"/>
<line x1="696.5" y1="1613.7" x2="696.5" y2="1910.8" stroke="#000" stroke-width="2" stroke-linecap="butt"/>
<line x1="672.3" y1="1909.8" x2="992.4" y2="1909.8" stroke="#000" stroke-width="2" stroke-linecap="butt"/>
<line x1="672.3" y1="1909.8" x2="696.5" y2="1909.8" stroke="#000" stroke-width="2" stroke-linecap="butt"/>
<text x="666.5" y="1919.0" text-anchor="end" style="font-size:25px" fill="#000">0.0000</text>
<line x1="672.3" y1="1836.0" x2="696.5" y2="1836.0" stroke="#000" stroke-width="2" stroke-linecap="butt"/>
<text x="666.5" y="1845.2" text-anchor="end" style="font-size:25px" fill="#000">0.0002</text>
<line x1="672.3" y1="1762.2" x2="696.5" y2="1762.2" stroke="#000" stroke-width="2" stroke-linecap="butt"/>
<text x="666.5" y="1771.4" text-anchor="end" style="font-size:25px" fill="#000">0.0004</text>
<line x1="672.3" y1="1688.4" x2="696.5" y2="1688.4" stroke="#000" stroke-width="2" stroke-linecap="butt"/>
<text x="666.5" y="1697.6" text-anchor="end" style="font-size:25px" fill="#000">0.0006</text>
<line x1="672.3" y1="1614.6" x2="696.5" y2="1614.6" stroke="#000" stroke-width="2" stroke-linecap="butt"/>
<text x="666.5" y="1623.8" text-anchor="end" style="font-size:25px" fill="#000">0.0008</text>
<line x1="742.1" y1="1909.8" x2="742.1" y2="1933.2" stroke="#000" stroke-width="2" stroke-linecap="butt"/>
<text x="742.1" y="1961.5" text-anchor="middle" style="font-size:25px" fill="#000">0</text>
<line x1="843.5" y1="1909.8" x2="843.5" y2="1933.2" stroke="#000" stroke-width="2" stroke-linecap="butt"/>
<text x="843.5" y="1961.5" text-anchor="middle" style="font-size:25px" fill="#000">1.5</text>
<line x1="944.5" y1="1909.8" x2="944.5" y2="1933.2" stroke="#000" stroke-width="2" stroke-linecap="butt"/>
<text x="944.5" y="1961.5" text-anchor="middle" style="font-size:25px" fill="#000">2</text>
<circle cx="714.6" cy="1909.8" r="8.8" fill="none" stroke="#000" stroke-width="2.4"/>
<circle cx="742.8" cy="1909.8" r="10.2" fill="#000"/>
<circle cx="770.4" cy="1909.8" r="9.6" fill="#5691cd"/>
<line x1="816.4" y1="1797.5" x2="816.4" y2="1905.0" stroke="#000" stroke-width="2" stroke-linecap="butt"/>
<line x1="811.4" y1="1797.5" x2="821.4" y2="1797.5" stroke="#000" stroke-width="2" stroke-linecap="butt"/>
<line x1="811.4" y1="1905.0" x2="821.4" y2="1905.0" stroke="#000" stroke-width="2" stroke-linecap="butt"/>
<line x1="807.4" y1="1849.5" x2="825.4" y2="1849.5" stroke="#000" stroke-width="2" stroke-linecap="butt"/>
<circle cx="816.4" cy="1693.1" r="8.8" fill="none" stroke="#000" stroke-width="2.4"/>
<circle cx="816.4" cy="1894.8" r="8.8" fill="none" stroke="#000" stroke-width="2.4"/>
<circle cx="816.4" cy="1902.3" r="8.8" fill="none" stroke="#000" stroke-width="2.4"/>
<circle cx="816.4" cy="1909.8" r="8.8" fill="none" stroke="#000" stroke-width="2.4"/>
<line x1="816.4" y1="1797.5" x2="816.4" y2="1905.0" stroke="#000" stroke-width="2" stroke-linecap="butt"/>
<circle cx="843.9" cy="1905.0" r="10.2" fill="#000"/>
<circle cx="843.9" cy="1908.7" r="10.2" fill="#000"/>
<circle cx="871.8" cy="1909.0" r="9.6" fill="#5691cd"/>
<circle cx="917.4" cy="1907.0" r="8.8" fill="none" stroke="#000" stroke-width="2.4"/>
<circle cx="917.4" cy="1909.0" r="8.8" fill="none" stroke="#000" stroke-width="2.4"/>
<circle cx="944.9" cy="1896.7" r="10.2" fill="#000"/>
<circle cx="944.9" cy="1906.0" r="10.2" fill="#000"/>
<circle cx="973.2" cy="1873.7" r="9.6" fill="#5691cd"/>
<circle cx="973.2" cy="1907.6" r="9.6" fill="#5691cd"/>
<line x1="968.2" y1="1890.6" x2="978.2" y2="1890.6" stroke="#5691cd" stroke-width="2" stroke-linecap="butt"/>
<line x1="973.2" y1="1890.6" x2="973.2" y2="1898.0" stroke="#5691cd" stroke-width="2" stroke-linecap="butt"/>
<line x1="963.2" y1="1898.5" x2="983.2" y2="1898.5" stroke="#000" stroke-width="1.5" stroke-linecap="butt"/>
<line x1="1125.5" y1="1616.3" x2="1125.5" y2="1913.5" stroke="#000" stroke-width="2" stroke-linecap="butt"/>
<line x1="1101.8" y1="1912.5" x2="1324.2" y2="1912.5" stroke="#000" stroke-width="2" stroke-linecap="butt"/>
<line x1="1101.8" y1="1912.5" x2="1125.5" y2="1912.5" stroke="#000" stroke-width="2" stroke-linecap="butt"/>
<text x="1095.0" y="1921.7" text-anchor="end" style="font-size:25px" fill="#000">0.00000</text>
<line x1="1101.8" y1="1814.1" x2="1125.5" y2="1814.1" stroke="#000" stroke-width="2" stroke-linecap="butt"/>
<text x="1095.0" y="1823.2" text-anchor="end" style="font-size:25px" fill="#000">0.00005</text>
<line x1="1101.8" y1="1715.7" x2="1125.5" y2="1715.7" stroke="#000" stroke-width="2" stroke-linecap="butt"/>
<text x="1095.0" y="1724.9" text-anchor="end" style="font-size:25px" fill="#000">0.00010</text>
<line x1="1101.8" y1="1617.3" x2="1125.5" y2="1617.3" stroke="#000" stroke-width="2" stroke-linecap="butt"/>
<text x="1095.0" y="1626.5" text-anchor="end" style="font-size:25px" fill="#000">0.00015</text>
<line x1="1171.5" y1="1912.5" x2="1171.5" y2="1935.9" stroke="#000" stroke-width="2" stroke-linecap="butt"/>
<text x="1171.5" y="1965.3" text-anchor="middle" style="font-size:25px" fill="#000">0</text>
<line x1="1274.4" y1="1912.5" x2="1274.4" y2="1935.9" stroke="#000" stroke-width="2" stroke-linecap="butt"/>
<text x="1274.4" y="1965.3" text-anchor="middle" style="font-size:25px" fill="#000">2</text>
<circle cx="1144.4" cy="1886.1" r="8.8" fill="none" stroke="#000" stroke-width="2.4"/>
<circle cx="1144.4" cy="1893.6" r="8.8" fill="none" stroke="#000" stroke-width="2.4"/>
<circle cx="1144.4" cy="1897.4" r="8.8" fill="none" stroke="#000" stroke-width="2.4"/>
<circle cx="1144.4" cy="1906.1" r="8.8" fill="none" stroke="#000" stroke-width="2.4"/>
<line x1="1134.4" y1="1896.0" x2="1154.4" y2="1896.0" stroke="#000" stroke-width="2" stroke-linecap="butt"/>
<line x1="1139.4" y1="1889.0" x2="1149.4" y2="1889.0" stroke="#000" stroke-width="2" stroke-linecap="butt"/>
<line x1="1139.4" y1="1902.0" x2="1149.4" y2="1902.0" stroke="#000" stroke-width="2" stroke-linecap="butt"/>
<line x1="1171.9" y1="1872.9" x2="1171.9" y2="1900.0" stroke="#000" stroke-width="2" stroke-linecap="butt"/>
<line x1="1166.9" y1="1872.9" x2="1176.9" y2="1872.9" stroke="#000" stroke-width="2" stroke-linecap="butt"/>
<line x1="1166.9" y1="1900.0" x2="1176.9" y2="1900.0" stroke="#000" stroke-width="2" stroke-linecap="butt"/>
<line x1="1161.9" y1="1886.9" x2="1181.9" y2="1886.9" stroke="#000" stroke-width="2" stroke-linecap="butt"/>
<circle cx="1171.9" cy="1843.5" r="10.2" fill="#000"/>
<circle cx="1171.9" cy="1895.5" r="10.2" fill="#000"/>
<circle cx="1171.9" cy="1905.0" r="10.2" fill="#000"/>
<line x1="1161.9" y1="1886.9" x2="1181.9" y2="1886.9" stroke="#000" stroke-width="2" stroke-linecap="butt"/>
<circle cx="1199.8" cy="1895.5" r="9.6" fill="#5691cd"/>
<circle cx="1199.8" cy="1901.2" r="9.6" fill="#5691cd"/>
<circle cx="1199.8" cy="1906.8" r="9.6" fill="#5691cd"/>
<line x1="1247.3" y1="1799.8" x2="1247.3" y2="1830.0" stroke="#000" stroke-width="2" stroke-linecap="butt"/>
<line x1="1242.3" y1="1799.8" x2="1252.3" y2="1799.8" stroke="#000" stroke-width="2" stroke-linecap="butt"/>
<line x1="1242.3" y1="1830.0" x2="1252.3" y2="1830.0" stroke="#000" stroke-width="2" stroke-linecap="butt"/>
<line x1="1237.3" y1="1815.2" x2="1257.3" y2="1815.2" stroke="#000" stroke-width="2" stroke-linecap="butt"/>
<circle cx="1247.3" cy="1779.8" r="8.8" fill="none" stroke="#000" stroke-width="2.4"/>
<circle cx="1247.3" cy="1802.4" r="8.8" fill="none" stroke="#000" stroke-width="2.4"/>
<circle cx="1247.3" cy="1828.8" r="8.8" fill="none" stroke="#000" stroke-width="2.4"/>
<circle cx="1247.3" cy="1850.3" r="8.8" fill="none" stroke="#000" stroke-width="2.4"/>
<line x1="1247.3" y1="1799.8" x2="1247.3" y2="1830.0" stroke="#000" stroke-width="2" stroke-linecap="butt"/>
<line x1="1237.3" y1="1815.2" x2="1257.3" y2="1815.2" stroke="#000" stroke-width="2" stroke-linecap="butt"/>
<line x1="1242.3" y1="1799.8" x2="1252.3" y2="1799.8" stroke="#000" stroke-width="2" stroke-linecap="butt"/>
<line x1="1242.3" y1="1830.0" x2="1252.3" y2="1830.0" stroke="#000" stroke-width="2" stroke-linecap="butt"/>
<line x1="1275.2" y1="1821.3" x2="1275.2" y2="1885.0" stroke="#000" stroke-width="2" stroke-linecap="butt"/>
<line x1="1270.2" y1="1821.3" x2="1280.2" y2="1821.3" stroke="#000" stroke-width="2" stroke-linecap="butt"/>
<line x1="1270.2" y1="1885.0" x2="1280.2" y2="1885.0" stroke="#000" stroke-width="2" stroke-linecap="butt"/>
<circle cx="1275.2" cy="1766.6" r="10.2" fill="#000"/>
<circle cx="1275.2" cy="1851.4" r="10.2" fill="#000"/>
<circle cx="1275.2" cy="1891.8" r="10.2" fill="#000"/>
<circle cx="1275.2" cy="1900.4" r="10.2" fill="#000"/>
<line x1="1303.1" y1="1780.5" x2="1303.1" y2="1830.0" stroke="#5691cd" stroke-width="2" stroke-linecap="butt"/>
<line x1="1298.1" y1="1780.5" x2="1308.1" y2="1780.5" stroke="#5691cd" stroke-width="2" stroke-linecap="butt"/>
<line x1="1298.1" y1="1830.0" x2="1308.1" y2="1830.0" stroke="#5691cd" stroke-width="2" stroke-linecap="butt"/>
<line x1="1293.1" y1="1808.1" x2="1313.1" y2="1808.1" stroke="#000" stroke-width="2" stroke-linecap="butt"/>
<circle cx="1303.1" cy="1725.1" r="9.6" fill="#5691cd"/>
<circle cx="1303.1" cy="1825.8" r="9.6" fill="#5691cd"/>
<circle cx="1303.1" cy="1831.4" r="9.6" fill="#5691cd"/>
<circle cx="1303.1" cy="1851.0" r="9.6" fill="#5691cd"/>
<text x="1242.4" y="1702.5" text-anchor="middle" style="font-size:21px" fill="#000">0.509</text>
<line x1="1227.3" y1="1705.1" x2="1269.5" y2="1705.1" stroke="#000" stroke-width="2" stroke-linecap="butt"/>
<text x="1304.6" y="1702.5" text-anchor="middle" style="font-size:21px" fill="#000">0.607</text>
<line x1="1273.7" y1="1705.1" x2="1315.1" y2="1705.1" stroke="#000" stroke-width="2" stroke-linecap="butt"/>
<line x1="245.0" y1="2074.1" x2="245.0" y2="2431.9" stroke="#000" stroke-width="2.4" stroke-linecap="butt"/>
<line x1="228.9" y1="2430.7" x2="600.9" y2="2430.7" stroke="#000" stroke-width="2.4" stroke-linecap="butt"/>
<line x1="228.9" y1="2430.7" x2="245.0" y2="2430.7" stroke="#000" stroke-width="2.4" stroke-linecap="butt"/>
<text x="222.8" y="2439.8" text-anchor="end" style="font-size:25px" fill="#000">0</text>
<line x1="228.9" y1="2312.2" x2="245.0" y2="2312.2" stroke="#000" stroke-width="2.4" stroke-linecap="butt"/>
<text x="222.8" y="2321.3" text-anchor="end" style="font-size:25px" fill="#000">5000</text>
<line x1="228.9" y1="2193.7" x2="245.0" y2="2193.7" stroke="#000" stroke-width="2.4" stroke-linecap="butt"/>
<text x="222.8" y="2202.8" text-anchor="end" style="font-size:25px" fill="#000">10000</text>
<line x1="228.9" y1="2075.2" x2="245.0" y2="2075.2" stroke="#000" stroke-width="2.4" stroke-linecap="butt"/>
<text x="222.8" y="2084.3" text-anchor="end" style="font-size:25px" fill="#000">15000</text>
<line x1="284.5" y1="2430.7" x2="284.5" y2="2446.5" stroke="#000" stroke-width="2.4" stroke-linecap="butt"/>
<text x="284.5" y="2475.7" text-anchor="middle" style="font-size:25px" fill="#000">0</text>
<line x1="376.1" y1="2430.7" x2="376.1" y2="2446.5" stroke="#000" stroke-width="2.4" stroke-linecap="butt"/>
<text x="376.1" y="2475.7" text-anchor="middle" style="font-size:25px" fill="#000">1.5</text>
<line x1="467.7" y1="2430.7" x2="467.7" y2="2446.5" stroke="#000" stroke-width="2.4" stroke-linecap="butt"/>
<text x="467.7" y="2475.7" text-anchor="middle" style="font-size:25px" fill="#000">2</text>
<line x1="558.9" y1="2430.7" x2="558.9" y2="2446.5" stroke="#000" stroke-width="2.4" stroke-linecap="butt"/>
<text x="558.9" y="2475.7" text-anchor="middle" style="font-size:25px" fill="#000">3</text>
<text x="129.5" y="2264.0" text-anchor="middle" style="font-size:24.9px" fill="#000" transform="rotate(-90 129.5 2264.0)">MFI CD86 on cDC1</text>
<circle cx="268.0" cy="2391.2" r="8.8" fill="none" stroke="#000" stroke-width="2.4"/>
<circle cx="265.2" cy="2398.0" r="8.8" fill="none" stroke="#000" stroke-width="2.4"/>
<circle cx="270.0" cy="2393.0" r="8.8" fill="none" stroke="#000" stroke-width="2.4"/>
<circle cx="299.5" cy="2398.0" r="10.2" fill="#000"/>
<circle cx="304.3" cy="2394.0" r="10.2" fill="#000"/>
<circle cx="301.0" cy="2396.0" r="10.2" fill="#000"/>
<line x1="358.8" y1="2182.2" x2="358.8" y2="2217.7" stroke="#000" stroke-width="2" stroke-linecap="butt"/>
<line x1="353.8" y1="2182.2" x2="363.8" y2="2182.2" stroke="#000" stroke-width="2" stroke-linecap="butt"/>
<line x1="353.8" y1="2217.7" x2="363.8" y2="2217.7" stroke="#000" stroke-width="2" stroke-linecap="butt"/>
<line x1="348.3" y1="2199.5" x2="369.3" y2="2199.5" stroke="#000" stroke-width="2" stroke-linecap="butt"/>
<circle cx="361.6" cy="2137.0" r="8.8" fill="none" stroke="#000" stroke-width="2.4"/>
<circle cx="356.0" cy="2149.9" r="8.8" fill="none" stroke="#000" stroke-width="2.4"/>
<circle cx="361.6" cy="2159.2" r="8.8" fill="none" stroke="#000" stroke-width="2.4"/>
<circle cx="358.8" cy="2185.4" r="8.8" fill="none" stroke="#000" stroke-width="2.4"/>
<circle cx="358.8" cy="2205.6" r="8.8" fill="none" stroke="#000" stroke-width="2.4"/>
<circle cx="358.8" cy="2230.6" r="8.8" fill="none" stroke="#000" stroke-width="2.4"/>
<circle cx="362.8" cy="2264.1" r="8.8" fill="none" stroke="#000" stroke-width="2.4"/>
<circle cx="356.8" cy="2268.9" r="8.8" fill="none" stroke="#000" stroke-width="2.4"/>
<line x1="358.8" y1="2182.2" x2="358.8" y2="2217.7" stroke="#000" stroke-width="2" stroke-linecap="butt"/>
<line x1="348.3" y1="2199.5" x2="369.3" y2="2199.5" stroke="#000" stroke-width="2" stroke-linecap="butt"/>
<line x1="353.8" y1="2182.2" x2="363.8" y2="2182.2" stroke="#000" stroke-width="2" stroke-linecap="butt"/>
<line x1="353.8" y1="2217.7" x2="363.8" y2="2217.7" stroke="#000" stroke-width="2" stroke-linecap="butt"/>
<line x1="393.1" y1="2203.0" x2="393.1" y2="2248.0" stroke="#000" stroke-width="2" stroke-linecap="butt"/>
<line x1="388.1" y1="2203.0" x2="398.1" y2="2203.0" stroke="#000" stroke-width="2" stroke-linecap="butt"/>
<line x1="388.1" y1="2248.0" x2="398.1" y2="2248.0" stroke="#000" stroke-width="2" stroke-linecap="butt"/>
<line x1="382.6" y1="2225.8" x2="403.6" y2="2225.8" stroke="#000" stroke-width="2" stroke-linecap="butt"/>
<circle cx="393.1" cy="2116.0" r="10.2" fill="#000"/>
<circle cx="393.1" cy="2153.9" r="10.2" fill="#000"/>
<circle cx="392.0" cy="2194.3" r="10.2" fill="#000"/>
<circle cx="395.0" cy="2202.8" r="10.2" fill="#000"/>
<circle cx="393.1" cy="2254.8" r="10.2" fill="#000"/>
<circle cx="394.3" cy="2293.1" r="10.2" fill="#000"/>
<circle cx="390.3" cy="2298.4" r="10.2" fill="#000"/>
<circle cx="393.1" cy="2288.3" r="10.2" fill="#000"/>
<line x1="382.6" y1="2225.8" x2="403.6" y2="2225.8" stroke="#000" stroke-width="2" stroke-linecap="butt"/>
<line x1="393.1" y1="2203.0" x2="393.1" y2="2248.0" stroke="#000" stroke-width="2" stroke-linecap="butt"/>
<circle cx="450.4" cy="2335.4" r="8.8" fill="none" stroke="#000" stroke-width="2.4"/>
<circle cx="448.5" cy="2347.4" r="8.8" fill="none" stroke="#000" stroke-width="2.4"/>
<circle cx="452.2" cy="2350.7" r="8.8" fill="none" stroke="#000" stroke-width="2.4"/>
<circle cx="450.4" cy="2362.2" r="8.8" fill="none" stroke="#000" stroke-width="2.4"/>
<circle cx="452.2" cy="2372.4" r="8.8" fill="none" stroke="#000" stroke-width="2.4"/>
<circle cx="448.5" cy="2375.2" r="8.8" fill="none" stroke="#000" stroke-width="2.4"/>
<line x1="450.4" y1="2349.0" x2="450.4" y2="2366.0" stroke="#000" stroke-width="2" stroke-linecap="butt"/>
<line x1="445.4" y1="2349.0" x2="455.4" y2="2349.0" stroke="#000" stroke-width="2" stroke-linecap="butt"/>
<line x1="445.4" y1="2366.0" x2="455.4" y2="2366.0" stroke="#000" stroke-width="2" stroke-linecap="butt"/>
<line x1="439.3" y1="2357.6" x2="461.5" y2="2357.6" stroke="#000" stroke-width="2" stroke-linecap="butt"/>
<circle cx="485.9" cy="2336.7" r="10.2" fill="#000"/>
<circle cx="482.7" cy="2347.6" r="10.2" fill="#000"/>
<circle cx="487.1" cy="2356.9" r="10.2" fill="#000"/>
<circle cx="483.1" cy="2367.0" r="10.2" fill="#000"/>
<circle cx="485.1" cy="2389.1" r="10.2" fill="#000"/>
<circle cx="541.7" cy="2360.9" r="8.8" fill="none" stroke="#000" stroke-width="2.4"/>
<circle cx="539.8" cy="2367.8" r="8.8" fill="none" stroke="#000" stroke-width="2.4"/>
<circle cx="543.0" cy="2375.2" r="8.8" fill="none" stroke="#000" stroke-width="2.4"/>
<circle cx="541.0" cy="2379.0" r="8.8" fill="none" stroke="#000" stroke-width="2.4"/>
<circle cx="539.3" cy="2386.3" r="8.8" fill="none" stroke="#000" stroke-width="2.4"/>
<line x1="531.0" y1="2373.9" x2="552.0" y2="2373.9" stroke="#000" stroke-width="2" stroke-linecap="butt"/>
<circle cx="575.8" cy="2367.0" r="10.2" fill="#000"/>
<circle cx="577.9" cy="2377.0" r="10.2" fill="#000"/>
<circle cx="573.8" cy="2384.3" r="10.2" fill="#000"/>
<circle cx="579.5" cy="2389.1" r="10.2" fill="#000"/>
<text x="296.3" y="2367.0" text-anchor="middle" style="font-size:21px" fill="#000">0.910</text>
<line x1="264.0" y1="2372.2" x2="305.5" y2="2372.2" stroke="#000" stroke-width="2" stroke-linecap="butt"/>
<text x="378.8" y="2095.4" text-anchor="middle" style="font-size:21px" fill="#000">0.826</text>
<line x1="354.8" y1="2097.9" x2="396.3" y2="2097.9" stroke="#000" stroke-width="2" stroke-linecap="butt"/>
<text x="470.4" y="2307.7" text-anchor="middle" style="font-size:21px" fill="#000">0.910</text>
<line x1="446.3" y1="2311.3" x2="488.7" y2="2311.3" stroke="#000" stroke-width="2" stroke-linecap="butt"/>
<text x="562.1" y="2331.9" text-anchor="middle" style="font-size:21px" fill="#000">0.783</text>
<line x1="537.5" y1="2336.7" x2="579.5" y2="2336.7" stroke="#000" stroke-width="2" stroke-linecap="butt"/>
<line x1="753.4" y1="2074.2" x2="753.4" y2="2431.1" stroke="#000" stroke-width="2.4" stroke-linecap="butt"/>
<line x1="737.9" y1="2429.9" x2="1107.9" y2="2429.9" stroke="#000" stroke-width="2.4" stroke-linecap="butt"/>
<line x1="737.9" y1="2429.9" x2="753.4" y2="2429.9" stroke="#000" stroke-width="2.4" stroke-linecap="butt"/>
<text x="731.0" y="2439.1" text-anchor="end" style="font-size:25px" fill="#000">0</text>
<line x1="737.9" y1="2341.2" x2="753.4" y2="2341.2" stroke="#000" stroke-width="2.4" stroke-linecap="butt"/>
<text x="731.0" y="2350.4" text-anchor="end" style="font-size:25px" fill="#000">5000</text>
<line x1="737.9" y1="2252.6" x2="753.4" y2="2252.6" stroke="#000" stroke-width="2.4" stroke-linecap="butt"/>
<text x="731.0" y="2261.8" text-anchor="end" style="font-size:25px" fill="#000">10000</text>
<line x1="737.9" y1="2164.0" x2="753.4" y2="2164.0" stroke="#000" stroke-width="2.4" stroke-linecap="butt"/>
<text x="731.0" y="2173.1" text-anchor="end" style="font-size:25px" fill="#000">15000</text>
<line x1="737.9" y1="2075.3" x2="753.4" y2="2075.3" stroke="#000" stroke-width="2.4" stroke-linecap="butt"/>
<text x="731.0" y="2084.5" text-anchor="end" style="font-size:25px" fill="#000">20000</text>
<line x1="792.9" y1="2429.9" x2="792.9" y2="2446.0" stroke="#000" stroke-width="2.4" stroke-linecap="butt"/>
<text x="792.9" y="2475.5" text-anchor="middle" style="font-size:25px" fill="#000">0</text>
<line x1="884.4" y1="2429.9" x2="884.4" y2="2446.0" stroke="#000" stroke-width="2.4" stroke-linecap="butt"/>
<text x="884.4" y="2475.5" text-anchor="middle" style="font-size:25px" fill="#000">1.5</text>
<line x1="976.0" y1="2429.9" x2="976.0" y2="2446.0" stroke="#000" stroke-width="2.4" stroke-linecap="butt"/>
<text x="976.0" y="2475.5" text-anchor="middle" style="font-size:25px" fill="#000">2</text>
<line x1="1067.1" y1="2429.9" x2="1067.1" y2="2446.0" stroke="#000" stroke-width="2.4" stroke-linecap="butt"/>
<text x="1067.1" y="2475.5" text-anchor="middle" style="font-size:25px" fill="#000">3</text>
<text x="638.5" y="2263.7" text-anchor="middle" style="font-size:24.9px" fill="#000" transform="rotate(-90 638.5 2263.7)">MFI CD86 on cDC2</text>
<circle cx="776.4" cy="2420.1" r="8.8" fill="none" stroke="#000" stroke-width="2.4"/>
<circle cx="772.2" cy="2420.5" r="8.8" fill="none" stroke="#000" stroke-width="2.4"/>
<circle cx="780.2" cy="2421.0" r="8.8" fill="none" stroke="#000" stroke-width="2.4"/>
<circle cx="809.8" cy="2419.1" r="10.2" fill="#000"/>
<circle cx="806.9" cy="2423.8" r="10.2" fill="#000"/>
<circle cx="814.5" cy="2420.5" r="10.2" fill="#000"/>
<circle cx="867.0" cy="2210.2" r="8.8" fill="none" stroke="#000" stroke-width="2.4"/>
<circle cx="870.8" cy="2220.5" r="8.8" fill="none" stroke="#000" stroke-width="2.4"/>
<circle cx="863.8" cy="2226.6" r="8.8" fill="none" stroke="#000" stroke-width="2.4"/>
<circle cx="867.0" cy="2246.8" r="8.8" fill="none" stroke="#000" stroke-width="2.4"/>
<circle cx="867.0" cy="2262.8" r="8.8" fill="none" stroke="#000" stroke-width="2.4"/>
<circle cx="867.0" cy="2281.6" r="8.8" fill="none" stroke="#000" stroke-width="2.4"/>
<circle cx="870.8" cy="2305.0" r="8.8" fill="none" stroke="#000" stroke-width="2.4"/>
<circle cx="864.7" cy="2309.7" r="8.8" fill="none" stroke="#000" stroke-width="2.4"/>
<line x1="867.0" y1="2244.5" x2="867.0" y2="2272.0" stroke="#000" stroke-width="2" stroke-linecap="butt"/>
<line x1="856.0" y1="2258.1" x2="878.0" y2="2258.1" stroke="#000" stroke-width="2" stroke-linecap="butt"/>
<line x1="862.0" y1="2244.5" x2="872.0" y2="2244.5" stroke="#000" stroke-width="2" stroke-linecap="butt"/>
<line x1="862.0" y1="2272.0" x2="872.0" y2="2272.0" stroke="#000" stroke-width="2" stroke-linecap="butt"/>
<circle cx="901.3" cy="2195.2" r="10.2" fill="#000"/>
<circle cx="901.3" cy="2223.3" r="10.2" fill="#000"/>
<circle cx="900.0" cy="2252.4" r="10.2" fill="#000"/>
<circle cx="903.7" cy="2260.4" r="10.2" fill="#000"/>
<circle cx="901.3" cy="2299.4" r="10.2" fill="#000"/>
<circle cx="903.7" cy="2327.6" r="10.2" fill="#000"/>
<circle cx="898.5" cy="2332.3" r="10.2" fill="#000"/>
<circle cx="901.3" cy="2324.3" r="10.2" fill="#000"/>
<line x1="890.0" y1="2276.9" x2="912.6" y2="2276.9" stroke="#000" stroke-width="2" stroke-linecap="butt"/>
<line x1="901.3" y1="2255.0" x2="901.3" y2="2299.0" stroke="#000" stroke-width="2" stroke-linecap="butt"/>
<line x1="959.6" y1="2307.4" x2="959.6" y2="2348.0" stroke="#000" stroke-width="2" stroke-linecap="butt"/>
<line x1="954.6" y1="2307.4" x2="964.6" y2="2307.4" stroke="#000" stroke-width="2" stroke-linecap="butt"/>
<line x1="954.6" y1="2348.0" x2="964.6" y2="2348.0" stroke="#000" stroke-width="2" stroke-linecap="butt"/>
<line x1="948.6" y1="2327.6" x2="970.6" y2="2327.6" stroke="#000" stroke-width="2" stroke-linecap="butt"/>
<circle cx="958.6" cy="2209.2" r="8.8" fill="none" stroke="#000" stroke-width="2.4"/>
<circle cx="959.6" cy="2334.6" r="8.8" fill="none" stroke="#000" stroke-width="2.4"/>
<circle cx="957.2" cy="2339.3" r="8.8" fill="none" stroke="#000" stroke-width="2.4"/>
<circle cx="961.9" cy="2339.3" r="8.8" fill="none" stroke="#000" stroke-width="2.4"/>
<circle cx="959.6" cy="2344.0" r="8.8" fill="none" stroke="#000" stroke-width="2.4"/>
<circle cx="959.6" cy="2368.4" r="8.8" fill="none" stroke="#000" stroke-width="2.4"/>
<circle cx="960.5" cy="2369.0" r="8.8" fill="none" stroke="#000" stroke-width="2.4"/>
<line x1="959.6" y1="2307.4" x2="959.6" y2="2348.0" stroke="#000" stroke-width="2" stroke-linecap="butt"/>
<line x1="948.6" y1="2327.6" x2="970.6" y2="2327.6" stroke="#000" stroke-width="2" stroke-linecap="butt"/>
<line x1="954.6" y1="2307.4" x2="964.6" y2="2307.4" stroke="#000" stroke-width="2" stroke-linecap="butt"/>
<line x1="992.9" y1="2247.0" x2="992.9" y2="2300.3" stroke="#000" stroke-width="2" stroke-linecap="butt"/>
<line x1="987.9" y1="2247.0" x2="997.9" y2="2247.0" stroke="#000" stroke-width="2" stroke-linecap="butt"/>
<line x1="987.9" y1="2300.3" x2="997.9" y2="2300.3" stroke="#000" stroke-width="2" stroke-linecap="butt"/>
<circle cx="992.9" cy="2169.3" r="10.2" fill="#000"/>
<circle cx="992.9" cy="2218.6" r="10.2" fill="#000"/>
<circle cx="992.9" cy="2245.4" r="10.2" fill="#000"/>
<circle cx="990.5" cy="2273.6" r="10.2" fill="#000"/>
<circle cx="996.2" cy="2273.6" r="10.2" fill="#000"/>
<circle cx="996.2" cy="2361.4" r="10.2" fill="#000"/>
<circle cx="990.1" cy="2368.4" r="10.2" fill="#000"/>
<line x1="992.9" y1="2250.0" x2="992.9" y2="2300.3" stroke="#000" stroke-width="2" stroke-linecap="butt"/>
<line x1="987.9" y1="2300.3" x2="997.9" y2="2300.3" stroke="#000" stroke-width="2" stroke-linecap="butt"/>
<circle cx="1050.2" cy="2378.3" r="8.8" fill="none" stroke="#000" stroke-width="2.4"/>
<circle cx="1047.8" cy="2385.3" r="8.8" fill="none" stroke="#000" stroke-width="2.4"/>
<circle cx="1052.5" cy="2384.0" r="8.8" fill="none" stroke="#000" stroke-width="2.4"/>
<circle cx="1046.9" cy="2391.0" r="8.8" fill="none" stroke="#000" stroke-width="2.4"/>
<circle cx="1052.5" cy="2397.0" r="8.8" fill="none" stroke="#000" stroke-width="2.4"/>
<circle cx="1082.0" cy="2381.6" r="10.2" fill="#000"/>
<circle cx="1087.7" cy="2386.3" r="10.2" fill="#000"/>
<circle cx="1083.0" cy="2393.3" r="10.2" fill="#000"/>
<circle cx="1086.8" cy="2399.4" r="10.2" fill="#000"/>
<text x="884.7" y="2169.3" text-anchor="middle" style="font-size:21px" fill="#000">0.699</text>
<line x1="860.9" y1="2173.5" x2="903.7" y2="2173.5" stroke="#000" stroke-width="2" stroke-linecap="butt"/>
<text x="979.8" y="2145.8" text-anchor="middle" style="font-size:21px" fill="#000">0.699</text>
<line x1="957.2" y1="2150.5" x2="999.5" y2="2150.5" stroke="#000" stroke-width="2" stroke-linecap="butt"/>
<text x="1068.0" y="2355.7" text-anchor="middle" style="font-size:21px" fill="#000">0.699</text>
<line x1="1045.5" y1="2360.4" x2="1087.7" y2="2360.4" stroke="#000" stroke-width="2" stroke-linecap="butt"/>
<circle cx="1112.4" cy="2085.8" r="9.1" fill="none" stroke="#000" stroke-width="2.4"/>
<circle cx="1112.4" cy="2142.3" r="10.2" fill="#000"/>
<text x="1146.5" y="2094.6" text-anchor="start" style="font-size:24.8px" fill="#000">CTR</text>
<text x="1146.5" y="2151.7" text-anchor="start" style="font-size:24.8px;letter-spacing:0.8px" fill="#000">pDC-less</text>
<line x1="239.3" y1="2495.4" x2="1114.3" y2="2495.4" stroke="#000" stroke-width="2.4" stroke-linecap="butt"/>
<polygon points="1125.3,2495.4 1108.3,2485.1 1113.3,2495.4 1108.3,2505.7" fill="#000"/>
<text x="694.0" y="2528.1" text-anchor="middle" style="font-size:25px" fill="#000">Days after infection</text>
</svg>
</body>
</html>
